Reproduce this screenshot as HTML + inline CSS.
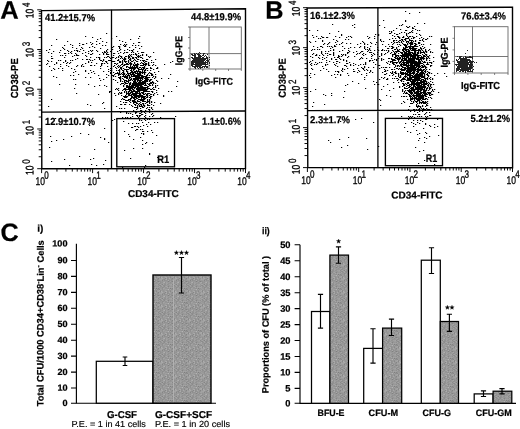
<!DOCTYPE html>
<html><head><meta charset="utf-8"><title>Figure</title>
<style>html,body{margin:0;padding:0;background:#fff;}body{width:520px;height:429px;overflow:hidden;font-family:"Liberation Sans",sans-serif;}svg{display:block;filter:blur(0.28px);}</style></head>
<body>
<svg width="520" height="429" viewBox="0 0 520 429" font-family="Liberation Sans, sans-serif">
<rect width="520" height="429" fill="#fff"/>
<g>
<path d="M41.5 10.6L245.5 8.7L245.5 168.5L41.8 168.8Z" fill="none" stroke="#000" stroke-width="1.4"/>
<path d="M111.5 9.8V168.7M41.6 112.2L245.5 111" stroke="#000" stroke-width="1.3" fill="none"/>
<path d="M41.60 168.7v4.4M56.95 168.7v2.9M65.92 168.7v2.9M72.29 168.7v2.9M77.23 168.7v2.9M81.27 168.7v2.9M84.68 168.7v2.9M87.64 168.7v2.9M90.24 168.7v2.9M92.58 168.7v4.4M107.92 168.7v2.9M116.90 168.7v2.9M123.27 168.7v2.9M128.20 168.7v2.9M132.24 168.7v2.9M135.65 168.7v2.9M138.61 168.7v2.9M141.22 168.7v2.9M143.55 168.7v4.4M158.90 168.7v2.9M167.87 168.7v2.9M174.24 168.7v2.9M179.18 168.7v2.9M183.22 168.7v2.9M186.63 168.7v2.9M189.59 168.7v2.9M192.19 168.7v2.9M194.53 168.7v4.4M209.87 168.7v2.9M218.85 168.7v2.9M225.22 168.7v2.9M230.15 168.7v2.9M234.19 168.7v2.9M237.60 168.7v2.9M240.56 168.7v2.9M243.17 168.7v2.9M245.50 168.7v4.4" stroke="#000" stroke-width="0.95" fill="none"/>
<path d="M41.6 168.70h-4.4M41.6 156.74h-2.9M41.6 149.75h-2.9M41.6 144.78h-2.9M41.6 140.93h-2.9M41.6 137.79h-2.9M41.6 135.13h-2.9M41.6 132.82h-2.9M41.6 130.79h-2.9M41.6 128.97h-4.4M41.6 117.02h-2.9M41.6 110.02h-2.9M41.6 105.06h-2.9M41.6 101.21h-2.9M41.6 98.06h-2.9M41.6 95.40h-2.9M41.6 93.10h-2.9M41.6 91.07h-2.9M41.6 89.25h-4.4M41.6 77.29h-2.9M41.6 70.30h-2.9M41.6 65.33h-2.9M41.6 61.48h-2.9M41.6 58.34h-2.9M41.6 55.68h-2.9M41.6 53.37h-2.9M41.6 51.34h-2.9M41.6 49.53h-4.4M41.6 37.57h-2.9M41.6 30.57h-2.9M41.6 25.61h-2.9M41.6 21.76h-2.9M41.6 18.61h-2.9M41.6 15.95h-2.9M41.6 13.65h-2.9M41.6 11.62h-2.9M41.6 9.80h-4.4" stroke="#000" stroke-width="0.95" fill="none"/>
<rect x="116.8" y="118.6" width="57.7" height="48.20000000000002" fill="none" stroke="#000" stroke-width="1.35"/>
<rect x="190" y="27" width="51.30000000000001" height="42" fill="#fff" stroke="#666" stroke-width="0.9"/>
<path d="M209 27V69M190 53.6H241.3" stroke="#666" stroke-width="0.9" fill="none"/>
<path d="M199 59.5h1.0M201 58.5h1.0M198 61.5h1.0M195 57.5h1.0M197 64.5h1.0M194 61.5h1.0M200 62.5h1.0M206 60.5h1.0M197 58.5h1.0M196 57.5h1.0M202 60.5h1.0M201 59.5h1.0M200 62.5h1.0M195 61.5h1.0M199 55.5h1.0M203 62.5h1.0M193 55.5h1.0M197 59.5h1.0M198 62.5h1.0M193 61.5h1.0M201 59.5h1.0M200 60.5h1.0M198 57.5h1.0M197 59.5h1.0M199 62.5h1.0M200 56.5h1.0M192 62.5h1.0M197 62.5h1.0M194 61.5h1.0M195 59.5h1.0M205 64.5h1.0M195 54.5h1.0M199 63.5h1.0M204 62.5h1.0M196 63.5h1.0M199 63.5h1.0M200 58.5h1.0M200 60.5h1.0M193 64.5h1.0M200 63.5h1.0M206 62.5h1.0M192 54.5h1.0M204 64.5h1.0M200 67.5h1.0M196 66.5h1.0M209 62.5h1.0M203 54.5h1.0M193 66.5h1.0M200 61.5h1.0M198 63.5h1.0M203 55.5h1.0M199 55.5h1.0M203 58.5h1.0M206 67.5h1.0M196 60.5h1.0M200 63.5h1.0M193 61.5h1.0M196 60.5h1.0M198 56.5h1.0M204 58.5h1.0M205 63.5h1.0M193 63.5h1.0M195 62.5h1.0M203 66.5h1.0M197 61.5h1.0M199 65.5h1.0M206 64.5h1.0M203 66.5h1.0M198 63.5h1.0M197 60.5h1.0M198 63.5h1.0M207 57.5h1.0M197 54.5h1.0M198 64.5h1.0M201 61.5h1.0M199 63.5h1.0M198 54.5h1.0M194 60.5h1.0M199 59.5h1.0M197 57.5h1.0M203 60.5h1.0M199 65.5h1.0M203 63.5h1.0M198 59.5h1.0M205 61.5h1.0M199 65.5h1.0M193 61.5h1.0M201 64.5h1.0M191 64.5h1.0M198 66.5h1.0M195 63.5h1.0M200 63.5h1.0M195 59.5h1.0M196 61.5h1.0M200 65.5h1.0M198 61.5h1.0M198 61.5h1.0M203 62.5h1.0M202 67.5h1.0M194 61.5h1.0M199 57.5h1.0M194 60.5h1.0M201 60.5h1.0M195 65.5h1.0M204 66.5h1.0M200 55.5h1.0M200 57.5h1.0M196 63.5h1.0M199 58.5h1.0M194 66.5h1.0M201 64.5h1.0M204 59.5h1.0M203 60.5h1.0M195 66.5h1.0M203 57.5h1.0M200 57.5h1.0M192 62.5h1.0M206 58.5h1.0M207 64.5h1.0M199 62.5h1.0M198 57.5h1.0M199 62.5h1.0M194 60.5h1.0M205 65.5h1.0M197 58.5h1.0M199 59.5h1.0M195 67.5h1.0M206 62.5h1.0M199 62.5h1.0M199 61.5h1.0M196 57.5h1.0M198 62.5h1.0M196 63.5h1.0M199 58.5h1.0M197 54.5h1.0M198 55.5h1.0M192 64.5h1.0M195 58.5h1.0M208 61.5h1.0M196 62.5h1.0M194 64.5h1.0M201 60.5h1.0M206 64.5h1.0M192 57.5h1.0M198 60.5h1.0M196 57.5h1.0M203 61.5h1.0M199 58.5h1.0M200 60.5h1.0M196 60.5h1.0M202 64.5h1.0M197 54.5h1.0M199 57.5h1.0M194 60.5h1.0M206 66.5h1.0M197 61.5h1.0M201 65.5h1.0M197 60.5h1.0M197 60.5h1.0M202 67.5h1.0M198 64.5h1.0M199 64.5h1.0M199 59.5h1.0M201 64.5h1.0M196 64.5h1.0M204 64.5h1.0M204 60.5h1.0M199 63.5h1.0M202 64.5h1.0M203 60.5h1.0M203 54.5h1.0M204 63.5h1.0M197 58.5h1.0M207 60.5h1.0M193 59.5h1.0M204 60.5h1.0M204 67.5h1.0M209 62.5h1.0M207 66.5h1.0M191 61.5h1.0M203 53.5h1.0M194 57.5h1.0M199 56.5h1.0M203 59.5h1.0M191 62.5h1.0M201 63.5h1.0M200 55.5h1.0M198 63.5h1.0M199 61.5h1.0M195 60.5h1.0M192 61.5h1.0M198 59.5h1.0M194 59.5h1.0M191 54.5h1.0M202 61.5h1.0M194 67.5h1.0M196 64.5h1.0M194 58.5h1.0M195 68.5h1.0M200 61.5h1.0M195 61.5h1.0M201 60.5h1.0M201 62.5h1.0M209 59.5h1.0M192 61.5h1.0M204 56.5h1.0M199 60.5h1.0M192 61.5h1.0M197 60.5h1.0M203 64.5h1.0M199 64.5h1.0M200 56.5h1.0M198 60.5h1.0M205 65.5h1.0M199 63.5h1.0M197 59.5h1.0M200 53.5h1.0M193 58.5h1.0M195 59.5h1.0M205 64.5h1.0M200 64.5h1.0M200 68.5h1.0M199 54.5h1.0M199 65.5h1.0M203 60.5h1.0M202 58.5h1.0M200 64.5h1.0M194 57.5h1.0M196 60.5h1.0M205 55.5h1.0M193 58.5h1.0M199 63.5h1.0M199 63.5h1.0M208 60.5h1.0M207 54.5h1.0M197 58.5h1.0M203 57.5h1.0M201 56.5h1.0M201 58.5h1.0M199 52.5h1.0M200 64.5h1.0M194 61.5h1.0M198 63.5h1.0M198 62.5h1.0M205 64.5h1.0M201 61.5h1.0M199 67.5h1.0M207 63.5h1.0M197 63.5h1.0M197 63.5h1.0M207 61.5h1.0M204 60.5h1.0M204 62.5h1.0M203 55.5h1.0M200 62.5h1.0M198 56.5h1.0M198 54.5h1.0M200 60.5h1.0M207 61.5h1.0M202 58.5h1.0M199 62.5h1.0M196 58.5h1.0M196 64.5h1.0M207 58.5h1.0M202 61.5h1.0M200 66.5h1.0M194 57.5h1.0M199 59.5h1.0M204 58.5h1.0M197 65.5h1.0M198 56.5h1.0M198 59.5h1.0M200 61.5h1.0M191 57.5h1.0M198 57.5h1.0M195 59.5h1.0M195 55.5h1.0M202 59.5h1.0M207 62.5h1.0M198 60.5h1.0M196 53.5h1.0M200 59.5h1.0M199 65.5h1.0M194 64.5h1.0M202 61.5h1.0M209 57.5h1.0M198 64.5h1.0M198 59.5h1.0M194 56.5h1.0M201 58.5h1.0M194 62.5h1.0M206 67.5h1.0M195 59.5h1.0M205 66.5h1.0M207 59.5h1.0M201 61.5h1.0M209 65.5h1.0M198 59.5h1.0M196 61.5h1.0M193 63.5h1.0M200 67.5h1.0M207 59.5h1.0M204 53.5h1.0M195 60.5h1.0M195 61.5h1.0M197 62.5h1.0M201 67.5h1.0M198 63.5h1.0M200 65.5h1.0M201 56.5h1.0M198 65.5h1.0M200 65.5h1.0M199 62.5h1.0M202 62.5h1.0M202 57.5h1.0M200 61.5h1.0M191 63.5h1.0M201 65.5h1.0M192 63.5h1.0M204 60.5h1.0M203 62.5h1.0M199 61.5h1.0M197 61.5h1.0M196 65.5h1.0M202 57.5h1.0M200 64.5h1.0M195 56.5h1.0M193 62.5h1.0M199 57.5h1.0M198 66.5h1.0M194 60.5h1.0M205 65.5h1.0M205 62.5h1.0M205 62.5h1.0M202 55.5h1.0M199 66.5h1.0M197 61.5h1.0M198 68.5h1.0M193 62.5h1.0M192 58.5h1.0M203 63.5h1.0M198 65.5h1.0M200 61.5h1.0M204 63.5h1.0M200 65.5h1.0M201 64.5h1.0M197 62.5h1.0M204 62.5h1.0M200 66.5h1.0M193 59.5h1.0M195 58.5h1.0M203 60.5h1.0M202 67.5h1.0M206 67.5h1.0M202 58.5h1.0M206 56.5h1.0M197 67.5h1.0M198 61.5h1.0M194 55.5h1.0M198 65.5h1.0M207 67.5h1.0M196 59.5h1.0M200 63.5h1.0M191 65.5h1.0M197 58.5h1.0M204 63.5h1.0M193 61.5h1.0M205 59.5h1.0M201 59.5h1.0M194 62.5h1.0M197 61.5h1.0M197 59.5h1.0M199 59.5h1.0M197 66.5h1.0M195 62.5h1.0M198 65.5h1.0M194 67.5h1.0M193 64.5h1.0M204 58.5h1.0M192 65.5h1.0M199 60.5h1.0M204 53.5h1.0M197 57.5h1.0M207 64.5h1.0M195 65.5h1.0M201 65.5h1.0M198 61.5h1.0M196 63.5h1.0M202 64.5h1.0M199 61.5h1.0M202 66.5h1.0M194 64.5h1.0M199 57.5h1.0M200 66.5h1.0M204 60.5h1.0M195 57.5h1.0M199 63.5h1.0M203 57.5h1.0M194 54.5h1.0M199 64.5h1.0M205 66.5h1.0M192 61.5h1.0M194 66.5h1.0M196 61.5h1.0M194 61.5h1.0M201 64.5h1.0M195 66.5h1.0M196 60.5h1.0M202 60.5h1.0M196 61.5h1.0M201 62.5h1.0M194 57.5h1.0M193 66.5h1.0M209 63.5h1.0M198 58.5h1.0M201 63.5h1.0M199 63.5h1.0M200 59.5h1.0M209 63.5h1.0M192 66.5h1.0M194 58.5h1.0M193 60.5h1.0M203 63.5h1.0M203 62.5h1.0M194 62.5h1.0M192 60.5h1.0M198 53.5h1.0M206 60.5h1.0M202 63.5h1.0M194 58.5h1.0M205 58.5h1.0M194 60.5h1.0M198 63.5h1.0M192 55.5h1.0M194 53.5h1.0M206 57.5h1.0M197 57.5h1.0M197 64.5h1.0M199 55.5h1.0M199 63.5h1.0M199 60.5h1.0M194 61.5h1.0M199 64.5h1.0M206 62.5h1.0M209 62.5h1.0M199 57.5h1.0M195 64.5h1.0M199 60.5h1.0" stroke="#222" stroke-width="1.0" fill="none"/>
<path d="M190.0 69v2M190 69.0h-2M202.8 69v2M190 58.5h-2M215.7 69v2M190 48.0h-2M228.5 69v2M190 37.5h-2M241.3 69v2M190 27.0h-2" stroke="#555" stroke-width="0.7" fill="none"/>
<path d="M139 93.5h1.2M122 66.5h1.2M131 68.5h1.2M133 91.5h1.2M129 91.5h1.2M154 72.5h1.2M113 61.5h1.2M136 55.5h1.2M137 68.5h1.2M125 45.5h1.2M137 89.5h1.2M143 69.5h1.2M137 85.5h1.2M142 106.5h1.2M144 96.5h1.2M111 61.5h1.2M151 91.5h1.2M133 95.5h1.2M144 67.5h1.2M144 64.5h1.2M120 76.5h1.2M131 54.5h1.2M128 100.5h1.2M125 42.5h1.2M143 61.5h1.2M126 74.5h1.2M133 75.5h1.2M115 80.5h1.2M133 82.5h1.2M135 75.5h1.2M129 95.5h1.2M124 46.5h1.2M154 78.5h1.2M121 67.5h1.2M124 80.5h1.2M126 81.5h1.2M146 64.5h1.2M156 68.5h1.2M139 90.5h1.2M127 83.5h1.2M129 68.5h1.2M149 109.5h1.2M128 113.5h1.2M148 56.5h1.2M150 83.5h1.2M139 116.5h1.2M142 90.5h1.2M143 81.5h1.2M151 75.5h1.2M123 70.5h1.2M147 75.5h1.2M130 70.5h1.2M128 89.5h1.2M135 72.5h1.2M132 71.5h1.2M122 60.5h1.2M118 77.5h1.2M123 65.5h1.2M149 75.5h1.2M157 94.5h1.2M142 83.5h1.2M148 86.5h1.2M130 83.5h1.2M134 79.5h1.2M137 76.5h1.2M123 73.5h1.2M125 89.5h1.2M134 62.5h1.2M133 98.5h1.2M123 79.5h1.2M137 67.5h1.2M131 71.5h1.2M144 68.5h1.2M135 80.5h1.2M130 67.5h1.2M138 95.5h1.2M132 66.5h1.2M124 44.5h1.2M129 67.5h1.2M139 48.5h1.2M141 77.5h1.2M150 94.5h1.2M118 88.5h1.2M128 58.5h1.2M129 67.5h1.2M139 105.5h1.2M130 83.5h1.2M129 78.5h1.2M144 94.5h1.2M140 115.5h1.2M124 97.5h1.2M149 80.5h1.2M145 83.5h1.2M129 87.5h1.2M142 69.5h1.2M125 62.5h1.2M146 79.5h1.2M131 64.5h1.2M126 77.5h1.2M131 79.5h1.2M130 113.5h1.2M135 65.5h1.2M136 76.5h1.2M135 76.5h1.2M129 85.5h1.2M98 94.5h1.2M135 71.5h1.2M113 66.5h1.2M135 53.5h1.2M145 64.5h1.2M138 86.5h1.2M130 79.5h1.2M131 63.5h1.2M133 72.5h1.2M129 78.5h1.2M129 86.5h1.2M124 69.5h1.2M147 74.5h1.2M132 51.5h1.2M143 61.5h1.2M134 102.5h1.2M132 45.5h1.2M132 73.5h1.2M140 81.5h1.2M143 72.5h1.2M136 66.5h1.2M127 77.5h1.2M126 78.5h1.2M152 77.5h1.2M129 50.5h1.2M131 76.5h1.2M149 65.5h1.2M145 70.5h1.2M140 81.5h1.2M131 88.5h1.2M152 91.5h1.2M138 71.5h1.2M142 92.5h1.2M134 96.5h1.2M121 95.5h1.2M123 99.5h1.2M139 76.5h1.2M138 75.5h1.2M133 90.5h1.2M120 58.5h1.2M120 81.5h1.2M130 70.5h1.2M119 72.5h1.2M141 52.5h1.2M145 65.5h1.2M145 78.5h1.2M145 91.5h1.2M130 93.5h1.2M125 77.5h1.2M98 75.5h1.2M127 66.5h1.2M133 84.5h1.2M144 74.5h1.2M142 87.5h1.2M143 104.5h1.2M137 78.5h1.2M139 56.5h1.2M148 65.5h1.2M121 56.5h1.2M128 60.5h1.2M122 98.5h1.2M152 81.5h1.2M146 55.5h1.2M143 88.5h1.2M124 97.5h1.2M136 73.5h1.2M131 68.5h1.2M135 73.5h1.2M133 82.5h1.2M141 88.5h1.2M132 96.5h1.2M145 96.5h1.2M139 96.5h1.2M133 98.5h1.2M134 88.5h1.2M128 55.5h1.2M143 76.5h1.2M132 83.5h1.2M137 72.5h1.2M132 92.5h1.2M118 73.5h1.2M143 64.5h1.2M126 100.5h1.2M143 88.5h1.2M139 81.5h1.2M119 92.5h1.2M126 94.5h1.2M130 83.5h1.2M122 41.5h1.2M121 68.5h1.2M142 71.5h1.2M131 63.5h1.2M139 81.5h1.2M132 96.5h1.2M137 71.5h1.2M125 61.5h1.2M137 108.5h1.2M140 71.5h1.2M133 60.5h1.2M130 82.5h1.2M124 84.5h1.2M135 67.5h1.2M139 90.5h1.2M131 71.5h1.2M125 64.5h1.2M140 81.5h1.2M156 90.5h1.2M130 68.5h1.2M139 83.5h1.2M138 77.5h1.2M112 120.5h1.2M135 67.5h1.2M129 99.5h1.2M149 77.5h1.2M132 76.5h1.2M127 89.5h1.2M134 91.5h1.2M138 97.5h1.2M129 83.5h1.2M133 69.5h1.2M119 70.5h1.2M133 86.5h1.2M144 87.5h1.2M139 99.5h1.2M143 84.5h1.2M139 94.5h1.2M149 101.5h1.2M145 80.5h1.2M150 56.5h1.2M144 60.5h1.2M131 56.5h1.2M140 102.5h1.2M135 65.5h1.2M140 96.5h1.2M137 87.5h1.2M129 104.5h1.2M114 93.5h1.2M127 76.5h1.2M113 75.5h1.2M135 79.5h1.2M135 81.5h1.2M116 70.5h1.2M142 78.5h1.2M146 102.5h1.2M133 52.5h1.2M152 82.5h1.2M153 64.5h1.2M122 81.5h1.2M147 91.5h1.2M139 77.5h1.2M140 90.5h1.2M142 54.5h1.2M129 95.5h1.2M127 69.5h1.2M127 87.5h1.2M127 81.5h1.2M130 39.5h1.2M118 67.5h1.2M124 81.5h1.2M143 101.5h1.2M134 82.5h1.2M139 82.5h1.2M113 57.5h1.2M128 99.5h1.2M131 105.5h1.2M135 78.5h1.2M128 75.5h1.2M142 54.5h1.2M135 91.5h1.2M139 119.5h1.2M136 89.5h1.2M144 97.5h1.2M130 86.5h1.2M145 63.5h1.2M141 98.5h1.2M134 59.5h1.2M135 75.5h1.2M140 82.5h1.2M146 91.5h1.2M145 84.5h1.2M139 84.5h1.2M143 67.5h1.2M134 59.5h1.2M148 79.5h1.2M133 67.5h1.2M111 58.5h1.2M147 59.5h1.2M135 71.5h1.2M119 50.5h1.2M130 58.5h1.2M123 53.5h1.2M157 81.5h1.2M140 84.5h1.2M121 108.5h1.2M138 56.5h1.2M129 68.5h1.2M156 92.5h1.2M123 75.5h1.2M110 73.5h1.2M138 104.5h1.2M130 73.5h1.2M128 61.5h1.2M110 58.5h1.2M139 83.5h1.2M153 83.5h1.2M112 57.5h1.2M145 63.5h1.2M129 86.5h1.2M139 87.5h1.2M138 68.5h1.2M133 87.5h1.2M147 87.5h1.2M137 51.5h1.2M128 73.5h1.2M143 84.5h1.2M128 69.5h1.2M113 46.5h1.2M155 74.5h1.2M132 89.5h1.2M130 102.5h1.2M135 45.5h1.2M122 117.5h1.2M119 61.5h1.2M131 92.5h1.2M131 97.5h1.2M137 93.5h1.2M147 80.5h1.2M128 61.5h1.2M141 87.5h1.2M140 67.5h1.2M119 40.5h1.2M141 120.5h1.2M126 89.5h1.2M148 105.5h1.2M138 64.5h1.2M137 100.5h1.2M123 102.5h1.2M138 101.5h1.2M126 78.5h1.2M140 60.5h1.2M133 75.5h1.2M123 45.5h1.2M142 52.5h1.2M142 79.5h1.2M127 63.5h1.2M146 76.5h1.2M131 76.5h1.2M134 107.5h1.2M138 97.5h1.2M127 77.5h1.2M132 96.5h1.2M132 66.5h1.2M150 73.5h1.2M152 92.5h1.2M130 59.5h1.2M151 74.5h1.2M132 58.5h1.2M139 80.5h1.2M146 102.5h1.2M136 67.5h1.2M139 81.5h1.2M136 65.5h1.2M120 61.5h1.2M146 59.5h1.2M132 100.5h1.2M135 113.5h1.2M104 85.5h1.2M144 67.5h1.2M144 89.5h1.2M142 73.5h1.2M146 90.5h1.2M153 82.5h1.2M134 82.5h1.2M145 87.5h1.2M126 69.5h1.2M130 72.5h1.2M143 52.5h1.2M138 71.5h1.2M118 57.5h1.2M138 76.5h1.2M131 64.5h1.2M126 80.5h1.2M140 85.5h1.2M128 57.5h1.2M117 66.5h1.2M121 64.5h1.2M154 89.5h1.2M121 104.5h1.2M138 91.5h1.2M140 73.5h1.2M143 100.5h1.2M119 55.5h1.2M133 100.5h1.2M135 68.5h1.2M139 36.5h1.2M132 118.5h1.2M125 102.5h1.2M143 63.5h1.2M146 81.5h1.2M138 75.5h1.2M128 80.5h1.2M137 56.5h1.2M135 68.5h1.2M144 85.5h1.2M122 81.5h1.2M138 96.5h1.2M133 79.5h1.2M126 113.5h1.2M136 67.5h1.2M135 82.5h1.2M127 49.5h1.2M137 59.5h1.2M122 98.5h1.2M133 64.5h1.2M140 86.5h1.2M137 77.5h1.2M144 62.5h1.2M121 73.5h1.2M118 70.5h1.2M136 71.5h1.2M140 89.5h1.2M158 88.5h1.2M140 69.5h1.2M124 64.5h1.2M143 82.5h1.2M125 76.5h1.2M120 93.5h1.2M141 118.5h1.2M139 91.5h1.2M142 77.5h1.2M140 75.5h1.2M152 65.5h1.2M136 64.5h1.2M146 63.5h1.2M123 72.5h1.2M119 72.5h1.2M151 89.5h1.2M149 72.5h1.2M140 75.5h1.2M135 60.5h1.2M139 103.5h1.2M128 86.5h1.2M153 105.5h1.2M143 90.5h1.2M142 100.5h1.2M138 74.5h1.2M147 89.5h1.2M144 119.5h1.2M140 60.5h1.2M124 96.5h1.2M142 103.5h1.2M148 84.5h1.2M130 89.5h1.2M135 97.5h1.2M143 68.5h1.2M145 84.5h1.2M140 65.5h1.2M116 68.5h1.2M139 69.5h1.2M122 76.5h1.2M126 80.5h1.2M141 85.5h1.2M129 56.5h1.2M146 108.5h1.2M163 96.5h1.2M144 89.5h1.2M142 73.5h1.2M125 77.5h1.2M129 86.5h1.2M124 84.5h1.2M126 52.5h1.2M124 89.5h1.2M132 123.5h1.2M129 50.5h1.2M126 93.5h1.2M120 84.5h1.2M120 76.5h1.2M141 99.5h1.2M133 60.5h1.2M146 81.5h1.2M148 101.5h1.2M131 75.5h1.2M141 72.5h1.2M120 80.5h1.2M158 71.5h1.2M149 102.5h1.2M131 64.5h1.2M124 91.5h1.2M137 59.5h1.2M116 88.5h1.2M126 76.5h1.2M138 38.5h1.2M135 78.5h1.2M128 62.5h1.2M144 71.5h1.2M126 102.5h1.2M136 61.5h1.2M128 62.5h1.2M128 100.5h1.2M140 80.5h1.2M126 102.5h1.2M155 83.5h1.2M127 64.5h1.2M155 77.5h1.2M125 97.5h1.2M142 93.5h1.2M122 78.5h1.2M120 79.5h1.2M136 76.5h1.2M141 69.5h1.2M124 108.5h1.2M147 78.5h1.2M124 61.5h1.2M135 71.5h1.2M140 89.5h1.2M142 88.5h1.2M115 76.5h1.2M150 68.5h1.2M140 78.5h1.2M127 52.5h1.2M122 58.5h1.2M118 90.5h1.2M119 71.5h1.2M141 84.5h1.2M133 97.5h1.2M124 88.5h1.2M129 78.5h1.2M154 111.5h1.2M132 88.5h1.2M128 73.5h1.2M150 89.5h1.2M140 84.5h1.2M134 65.5h1.2M128 79.5h1.2M118 75.5h1.2M119 48.5h1.2M129 75.5h1.2M132 74.5h1.2M138 71.5h1.2M138 53.5h1.2M136 73.5h1.2M137 77.5h1.2M124 80.5h1.2M110 60.5h1.2M130 88.5h1.2M123 59.5h1.2M127 75.5h1.2M134 98.5h1.2M120 67.5h1.2M122 70.5h1.2M135 95.5h1.2M135 72.5h1.2M127 73.5h1.2M140 81.5h1.2M134 94.5h1.2M120 44.5h1.2M134 65.5h1.2M153 62.5h1.2M126 61.5h1.2M145 65.5h1.2M148 65.5h1.2M151 83.5h1.2M124 64.5h1.2M156 80.5h1.2M136 84.5h1.2M131 67.5h1.2M132 80.5h1.2M143 103.5h1.2M136 83.5h1.2M132 68.5h1.2M148 77.5h1.2M126 64.5h1.2M124 82.5h1.2M144 91.5h1.2M141 65.5h1.2M146 75.5h1.2M125 95.5h1.2M145 70.5h1.2M140 81.5h1.2M151 62.5h1.2M120 65.5h1.2M136 70.5h1.2M135 111.5h1.2M117 72.5h1.2M126 70.5h1.2M145 70.5h1.2M129 76.5h1.2M128 88.5h1.2M144 81.5h1.2M148 109.5h1.2M145 81.5h1.2M128 100.5h1.2M134 82.5h1.2M146 87.5h1.2M125 56.5h1.2M126 76.5h1.2M143 77.5h1.2M151 74.5h1.2M119 46.5h1.2M109 91.5h1.2M119 72.5h1.2M123 71.5h1.2M133 74.5h1.2M141 75.5h1.2M134 84.5h1.2M125 59.5h1.2M135 64.5h1.2M125 82.5h1.2M134 80.5h1.2M127 72.5h1.2M138 69.5h1.2M142 65.5h1.2M126 77.5h1.2M126 96.5h1.2M128 62.5h1.2M120 101.5h1.2M128 91.5h1.2M126 71.5h1.2M145 90.5h1.2M128 56.5h1.2M124 52.5h1.2M118 59.5h1.2M122 72.5h1.2M133 73.5h1.2M131 70.5h1.2M147 79.5h1.2M125 46.5h1.2M146 85.5h1.2M135 57.5h1.2M133 68.5h1.2M113 72.5h1.2M119 61.5h1.2M140 57.5h1.2M148 63.5h1.2M137 78.5h1.2M143 87.5h1.2M131 86.5h1.2M129 63.5h1.2M126 66.5h1.2M143 64.5h1.2M139 85.5h1.2M129 47.5h1.2M133 97.5h1.2M140 71.5h1.2M137 66.5h1.2M126 83.5h1.2M154 93.5h1.2M138 83.5h1.2M136 94.5h1.2M150 80.5h1.2M147 96.5h1.2M135 97.5h1.2M140 77.5h1.2M125 100.5h1.2M128 80.5h1.2M111 79.5h1.2M146 64.5h1.2M114 74.5h1.2M143 90.5h1.2M124 58.5h1.2M125 88.5h1.2M133 83.5h1.2M138 82.5h1.2M138 45.5h1.2M153 76.5h1.2M139 88.5h1.2M143 67.5h1.2M128 79.5h1.2M138 42.5h1.2M137 88.5h1.2M129 68.5h1.2M135 91.5h1.2M131 50.5h1.2M138 88.5h1.2M138 74.5h1.2M130 90.5h1.2M125 64.5h1.2M141 69.5h1.2M120 112.5h1.2M127 66.5h1.2M150 67.5h1.2M106 74.5h1.2M126 63.5h1.2M144 96.5h1.2M120 104.5h1.2M157 67.5h1.2M105 52.5h1.2M151 96.5h1.2M153 95.5h1.2M145 90.5h1.2M134 95.5h1.2M137 65.5h1.2M125 75.5h1.2M141 57.5h1.2M121 57.5h1.2M133 93.5h1.2M144 68.5h1.2M126 112.5h1.2M131 79.5h1.2M135 68.5h1.2M122 90.5h1.2M149 105.5h1.2M139 85.5h1.2M117 60.5h1.2M135 84.5h1.2M128 99.5h1.2M127 71.5h1.2M134 66.5h1.2M129 93.5h1.2M145 80.5h1.2M125 61.5h1.2M144 72.5h1.2M133 67.5h1.2M144 82.5h1.2M129 80.5h1.2M131 95.5h1.2M123 89.5h1.2M138 55.5h1.2M145 84.5h1.2M149 91.5h1.2M149 85.5h1.2M139 93.5h1.2M131 70.5h1.2M137 64.5h1.2M136 92.5h1.2M148 62.5h1.2M141 46.5h1.2M127 93.5h1.2M126 67.5h1.2M148 73.5h1.2M136 57.5h1.2M130 58.5h1.2M145 61.5h1.2M130 73.5h1.2M132 84.5h1.2M126 44.5h1.2M115 89.5h1.2M142 60.5h1.2M120 62.5h1.2M130 88.5h1.2M127 77.5h1.2M140 55.5h1.2M137 106.5h1.2M133 65.5h1.2M117 82.5h1.2M134 81.5h1.2M121 99.5h1.2M137 71.5h1.2M140 93.5h1.2M133 67.5h1.2M149 95.5h1.2M139 67.5h1.2M140 73.5h1.2M139 106.5h1.2M133 83.5h1.2M145 80.5h1.2M149 112.5h1.2M121 83.5h1.2M144 66.5h1.2M141 89.5h1.2M143 60.5h1.2M141 95.5h1.2M123 96.5h1.2M121 69.5h1.2M153 69.5h1.2M137 81.5h1.2M120 78.5h1.2M137 63.5h1.2M132 87.5h1.2M112 47.5h1.2M110 72.5h1.2M117 72.5h1.2M137 74.5h1.2M134 83.5h1.2M130 60.5h1.2M138 87.5h1.2M141 75.5h1.2M111 68.5h1.2M129 57.5h1.2M124 60.5h1.2M122 83.5h1.2M127 64.5h1.2M133 79.5h1.2M133 94.5h1.2M121 93.5h1.2M132 101.5h1.2M155 74.5h1.2M122 62.5h1.2M118 93.5h1.2M138 83.5h1.2M142 95.5h1.2M139 78.5h1.2M125 96.5h1.2M146 91.5h1.2M127 89.5h1.2M123 86.5h1.2M129 84.5h1.2M134 81.5h1.2M142 81.5h1.2M143 93.5h1.2M133 70.5h1.2M147 104.5h1.2M135 76.5h1.2M145 93.5h1.2M120 77.5h1.2M118 74.5h1.2M146 108.5h1.2M119 73.5h1.2M129 59.5h1.2M132 67.5h1.2M129 73.5h1.2M133 110.5h1.2M149 81.5h1.2M109 92.5h1.2M142 63.5h1.2M137 83.5h1.2M136 88.5h1.2M137 105.5h1.2M141 68.5h1.2M155 87.5h1.2M122 83.5h1.2M134 63.5h1.2M133 78.5h1.2M140 74.5h1.2M133 43.5h1.2M142 87.5h1.2M131 86.5h1.2M134 71.5h1.2M125 58.5h1.2M130 100.5h1.2M133 82.5h1.2M135 93.5h1.2M124 99.5h1.2M150 70.5h1.2M134 90.5h1.2M120 74.5h1.2M146 77.5h1.2M127 77.5h1.2M140 78.5h1.2M136 95.5h1.2M137 80.5h1.2M136 76.5h1.2M128 74.5h1.2M135 83.5h1.2M155 65.5h1.2M110 70.5h1.2M135 77.5h1.2M138 70.5h1.2M123 76.5h1.2M119 69.5h1.2M146 108.5h1.2M133 98.5h1.2M157 85.5h1.2M140 77.5h1.2M139 111.5h1.2M140 83.5h1.2M141 77.5h1.2M147 83.5h1.2M140 83.5h1.2M138 99.5h1.2M136 78.5h1.2M152 109.5h1.2M142 65.5h1.2M125 88.5h1.2M126 63.5h1.2M141 105.5h1.2M127 73.5h1.2M130 77.5h1.2M126 92.5h1.2M134 97.5h1.2M137 61.5h1.2M144 73.5h1.2M133 57.5h1.2M156 80.5h1.2M134 76.5h1.2M144 73.5h1.2M144 68.5h1.2M139 72.5h1.2M128 67.5h1.2M106 86.5h1.2M135 101.5h1.2M133 49.5h1.2M155 76.5h1.2M119 72.5h1.2M155 85.5h1.2M130 64.5h1.2M142 76.5h1.2M106 62.5h1.2M137 88.5h1.2M131 79.5h1.2M141 76.5h1.2M136 84.5h1.2M122 74.5h1.2M142 55.5h1.2M143 87.5h1.2M141 82.5h1.2M145 76.5h1.2M148 93.5h1.2M136 96.5h1.2M119 62.5h1.2M119 66.5h1.2M151 101.5h1.2M144 99.5h1.2M134 67.5h1.2M128 60.5h1.2M134 68.5h1.2M134 71.5h1.2M129 54.5h1.2M127 78.5h1.2M155 59.5h1.2M135 60.5h1.2M130 92.5h1.2M120 68.5h1.2M127 77.5h1.2M143 87.5h1.2M144 90.5h1.2M132 73.5h1.2M135 79.5h1.2M130 66.5h1.2M125 104.5h1.2M149 88.5h1.2M137 61.5h1.2M161 78.5h1.2M128 89.5h1.2M134 85.5h1.2M147 105.5h1.2M134 99.5h1.2M119 70.5h1.2M124 77.5h1.2M134 59.5h1.2M138 82.5h1.2M134 80.5h1.2M149 119.5h1.2M145 79.5h1.2M135 47.5h1.2M134 68.5h1.2M132 80.5h1.2M138 59.5h1.2M143 65.5h1.2M135 73.5h1.2M140 83.5h1.2M131 76.5h1.2M118 65.5h1.2M125 90.5h1.2M142 70.5h1.2M138 71.5h1.2M149 57.5h1.2M134 66.5h1.2M145 88.5h1.2M146 54.5h1.2M145 77.5h1.2M129 89.5h1.2M132 72.5h1.2M136 82.5h1.2M122 61.5h1.2M141 98.5h1.2M147 95.5h1.2M130 82.5h1.2M153 52.5h1.2M130 62.5h1.2M134 93.5h1.2M135 104.5h1.2M128 82.5h1.2M141 97.5h1.2M134 69.5h1.2M152 75.5h1.2M141 78.5h1.2M141 84.5h1.2M130 55.5h1.2M121 92.5h1.2M136 98.5h1.2M124 61.5h1.2M142 58.5h1.2M135 83.5h1.2M151 68.5h1.2M139 42.5h1.2M144 90.5h1.2M137 80.5h1.2M136 71.5h1.2M145 110.5h1.2M144 80.5h1.2M126 67.5h1.2M140 80.5h1.2M141 62.5h1.2M132 67.5h1.2M132 84.5h1.2M126 70.5h1.2M119 71.5h1.2M149 103.5h1.2M136 91.5h1.2M139 90.5h1.2M155 86.5h1.2M138 85.5h1.2M127 100.5h1.2M146 78.5h1.2M144 106.5h1.2M137 64.5h1.2M139 74.5h1.2M132 57.5h1.2M151 73.5h1.2M142 86.5h1.2M140 100.5h1.2M147 68.5h1.2M144 78.5h1.2M139 73.5h1.2M137 67.5h1.2M151 60.5h1.2M140 79.5h1.2M131 52.5h1.2M126 80.5h1.2M131 78.5h1.2M123 68.5h1.2M134 63.5h1.2M135 57.5h1.2M116 106.5h1.2M133 58.5h1.2M144 101.5h1.2M137 87.5h1.2M124 73.5h1.2M146 61.5h1.2M129 94.5h1.2M124 104.5h1.2M122 64.5h1.2M134 74.5h1.2M146 94.5h1.2M147 83.5h1.2M140 108.5h1.2M121 69.5h1.2M128 86.5h1.2M123 59.5h1.2M136 109.5h1.2M115 67.5h1.2M132 45.5h1.2M141 76.5h1.2M133 76.5h1.2M142 107.5h1.2M124 73.5h1.2M119 78.5h1.2M129 87.5h1.2M149 102.5h1.2M145 77.5h1.2M131 94.5h1.2M148 86.5h1.2M131 74.5h1.2M150 79.5h1.2M140 78.5h1.2M128 64.5h1.2M145 96.5h1.2M124 57.5h1.2M126 96.5h1.2M121 92.5h1.2M137 77.5h1.2M133 67.5h1.2M133 75.5h1.2M131 85.5h1.2M151 89.5h1.2M130 82.5h1.2M128 93.5h1.2M147 70.5h1.2M150 82.5h1.2M136 54.5h1.2M117 89.5h1.2M128 80.5h1.2M140 72.5h1.2M136 95.5h1.2M152 88.5h1.2M116 36.5h1.2M142 79.5h1.2M126 56.5h1.2M150 94.5h1.2M137 115.5h1.2M145 70.5h1.2M128 79.5h1.2M119 74.5h1.2M123 83.5h1.2M129 88.5h1.2M126 97.5h1.2M146 63.5h1.2M151 102.5h1.2M136 64.5h1.2M124 82.5h1.2M135 95.5h1.2M128 89.5h1.2M148 64.5h1.2M137 67.5h1.2M139 71.5h1.2M130 77.5h1.2M115 95.5h1.2M124 59.5h1.2M123 85.5h1.2M139 87.5h1.2M136 86.5h1.2M127 85.5h1.2M133 101.5h1.2M152 85.5h1.2M126 91.5h1.2M126 86.5h1.2M135 105.5h1.2M124 50.5h1.2M132 97.5h1.2M140 74.5h1.2M152 74.5h1.2M114 63.5h1.2M132 50.5h1.2M134 72.5h1.2M133 68.5h1.2M133 85.5h1.2M129 56.5h1.2M147 99.5h1.2M130 82.5h1.2M133 74.5h1.2M133 67.5h1.2M134 66.5h1.2M131 61.5h1.2M144 70.5h1.2M134 78.5h1.2M136 75.5h1.2M132 57.5h1.2M124 74.5h1.2M124 65.5h1.2M124 80.5h1.2M139 106.5h1.2M128 87.5h1.2M123 73.5h1.2M135 54.5h1.2M138 57.5h1.2M113 53.5h1.2M153 89.5h1.2M134 67.5h1.2M133 79.5h1.2M145 69.5h1.2M135 79.5h1.2M130 99.5h1.2M157 68.5h1.2M123 73.5h1.2M132 66.5h1.2M145 91.5h1.2M122 63.5h1.2M132 61.5h1.2M136 57.5h1.2M135 57.5h1.2M126 85.5h1.2M138 117.5h1.2M140 63.5h1.2M137 92.5h1.2M142 89.5h1.2M137 92.5h1.2M145 98.5h1.2M137 89.5h1.2M144 106.5h1.2M132 86.5h1.2M138 82.5h1.2M140 84.5h1.2M130 63.5h1.2M134 80.5h1.2M135 99.5h1.2M143 91.5h1.2M132 80.5h1.2M141 92.5h1.2M146 68.5h1.2M140 86.5h1.2M128 94.5h1.2M139 95.5h1.2M144 81.5h1.2M137 98.5h1.2M147 107.5h1.2M142 84.5h1.2M141 96.5h1.2M135 73.5h1.2M133 69.5h1.2M137 95.5h1.2M138 89.5h1.2M142 90.5h1.2M140 83.5h1.2M136 86.5h1.2M139 97.5h1.2M142 106.5h1.2M127 86.5h1.2M131 72.5h1.2M134 101.5h1.2M137 95.5h1.2M137 95.5h1.2M137 90.5h1.2M135 112.5h1.2M142 89.5h1.2M140 94.5h1.2M126 70.5h1.2M138 83.5h1.2M130 82.5h1.2M149 88.5h1.2M135 92.5h1.2M135 81.5h1.2M140 106.5h1.2M136 78.5h1.2M137 84.5h1.2M148 91.5h1.2M138 76.5h1.2M144 94.5h1.2M146 95.5h1.2M131 86.5h1.2M151 108.5h1.2M143 89.5h1.2M145 91.5h1.2M131 79.5h1.2M142 72.5h1.2M140 82.5h1.2M134 85.5h1.2M152 84.5h1.2M143 96.5h1.2M134 65.5h1.2M138 77.5h1.2M142 70.5h1.2M147 102.5h1.2M141 83.5h1.2M145 83.5h1.2M147 77.5h1.2M131 97.5h1.2M135 84.5h1.2M132 91.5h1.2M137 68.5h1.2M149 100.5h1.2M143 92.5h1.2M132 94.5h1.2M137 101.5h1.2M145 87.5h1.2M134 87.5h1.2M138 96.5h1.2M140 93.5h1.2M126 86.5h1.2M143 89.5h1.2M140 83.5h1.2M142 96.5h1.2M133 98.5h1.2M133 89.5h1.2M136 107.5h1.2M138 73.5h1.2M138 86.5h1.2M141 106.5h1.2M149 84.5h1.2M145 72.5h1.2M135 102.5h1.2M134 94.5h1.2M148 77.5h1.2M137 96.5h1.2M146 78.5h1.2M147 75.5h1.2M134 87.5h1.2M136 84.5h1.2M138 78.5h1.2M132 85.5h1.2M131 78.5h1.2M136 89.5h1.2M144 88.5h1.2M136 96.5h1.2M136 84.5h1.2M134 75.5h1.2M128 75.5h1.2M147 86.5h1.2M124 104.5h1.2M135 97.5h1.2M141 82.5h1.2M130 98.5h1.2M141 77.5h1.2M147 99.5h1.2M132 85.5h1.2M140 96.5h1.2M131 95.5h1.2M141 86.5h1.2M139 92.5h1.2M138 78.5h1.2M147 88.5h1.2M142 99.5h1.2M151 130.5h1.2M143 96.5h1.2M130 89.5h1.2M139 78.5h1.2M142 99.5h1.2M127 72.5h1.2M146 80.5h1.2M139 92.5h1.2M139 76.5h1.2M134 104.5h1.2M140 99.5h1.2M139 83.5h1.2M135 83.5h1.2M137 75.5h1.2M123 74.5h1.2M147 93.5h1.2M131 95.5h1.2M124 92.5h1.2M132 91.5h1.2M132 83.5h1.2M142 92.5h1.2M131 74.5h1.2M140 89.5h1.2M133 103.5h1.2M154 102.5h1.2M141 84.5h1.2M150 85.5h1.2M133 102.5h1.2M144 106.5h1.2M130 74.5h1.2M141 84.5h1.2M143 91.5h1.2M129 101.5h1.2M130 80.5h1.2M131 95.5h1.2M128 86.5h1.2M136 112.5h1.2M132 93.5h1.2M129 87.5h1.2M138 85.5h1.2M143 99.5h1.2M130 95.5h1.2M133 78.5h1.2M138 91.5h1.2M135 75.5h1.2M133 81.5h1.2M142 76.5h1.2M142 75.5h1.2M142 82.5h1.2M136 79.5h1.2M151 94.5h1.2M150 97.5h1.2M135 86.5h1.2M136 77.5h1.2M147 97.5h1.2M131 68.5h1.2M139 69.5h1.2M139 96.5h1.2M134 95.5h1.2M137 98.5h1.2M128 86.5h1.2M133 76.5h1.2M125 83.5h1.2M153 94.5h1.2M147 81.5h1.2M145 82.5h1.2M139 75.5h1.2M143 77.5h1.2M147 97.5h1.2M145 93.5h1.2M143 77.5h1.2M131 78.5h1.2M140 83.5h1.2M135 94.5h1.2M129 77.5h1.2M130 87.5h1.2M139 67.5h1.2M144 76.5h1.2M130 93.5h1.2M150 98.5h1.2M146 77.5h1.2M135 81.5h1.2M136 97.5h1.2M137 85.5h1.2M144 83.5h1.2M136 94.5h1.2M131 91.5h1.2M141 100.5h1.2M125 97.5h1.2M138 83.5h1.2M145 87.5h1.2M140 88.5h1.2M142 75.5h1.2M140 79.5h1.2M144 98.5h1.2M137 73.5h1.2M134 99.5h1.2M137 91.5h1.2M137 87.5h1.2M147 94.5h1.2M149 93.5h1.2M142 101.5h1.2M133 85.5h1.2M133 86.5h1.2M136 86.5h1.2M149 107.5h1.2M141 98.5h1.2M137 79.5h1.2M133 85.5h1.2M143 81.5h1.2M140 89.5h1.2M138 91.5h1.2M141 112.5h1.2M147 70.5h1.2M138 99.5h1.2M149 93.5h1.2M145 82.5h1.2M138 87.5h1.2M143 84.5h1.2M137 89.5h1.2M134 99.5h1.2M135 73.5h1.2M133 102.5h1.2M141 85.5h1.2M140 104.5h1.2M142 93.5h1.2M145 101.5h1.2M118 94.5h1.2M141 100.5h1.2M126 89.5h1.2M138 80.5h1.2M133 95.5h1.2M139 96.5h1.2M149 110.5h1.2M125 69.5h1.2M139 87.5h1.2M139 99.5h1.2M124 76.5h1.2M142 86.5h1.2M140 110.5h1.2M136 103.5h1.2M132 80.5h1.2M160 103.5h1.2M137 101.5h1.2M127 96.5h1.2M132 92.5h1.2M136 91.5h1.2M135 80.5h1.2M137 84.5h1.2M132 96.5h1.2M142 90.5h1.2M137 107.5h1.2M129 85.5h1.2M130 65.5h1.2M135 85.5h1.2M144 91.5h1.2M142 93.5h1.2M136 89.5h1.2M137 80.5h1.2M141 104.5h1.2M151 82.5h1.2M135 96.5h1.2M141 86.5h1.2M141 77.5h1.2M133 103.5h1.2M137 64.5h1.2M138 80.5h1.2M135 93.5h1.2M141 85.5h1.2M145 96.5h1.2M145 88.5h1.2M136 84.5h1.2M141 110.5h1.2M153 87.5h1.2M131 87.5h1.2M138 78.5h1.2M143 81.5h1.2M140 95.5h1.2M143 94.5h1.2M139 89.5h1.2M142 82.5h1.2M147 96.5h1.2M135 72.5h1.2M139 85.5h1.2M137 86.5h1.2M135 80.5h1.2M138 90.5h1.2M130 82.5h1.2M142 81.5h1.2M151 107.5h1.2M150 96.5h1.2M147 101.5h1.2M132 89.5h1.2M149 99.5h1.2M134 97.5h1.2M139 101.5h1.2M152 113.5h1.2M131 87.5h1.2M144 91.5h1.2M140 88.5h1.2M133 54.5h1.2M131 75.5h1.2M141 89.5h1.2M136 95.5h1.2M144 83.5h1.2M147 100.5h1.2M130 102.5h1.2M134 85.5h1.2M137 103.5h1.2M132 106.5h1.2M131 94.5h1.2M138 79.5h1.2M138 104.5h1.2M127 87.5h1.2M134 85.5h1.2M141 90.5h1.2M130 84.5h1.2M133 100.5h1.2M149 97.5h1.2M148 101.5h1.2M128 95.5h1.2M128 81.5h1.2M140 87.5h1.2M131 98.5h1.2M136 85.5h1.2M138 118.5h1.2M141 87.5h1.2M121 83.5h1.2M125 100.5h1.2M131 96.5h1.2M145 89.5h1.2M137 87.5h1.2M127 93.5h1.2M142 97.5h1.2M143 97.5h1.2M136 86.5h1.2M136 93.5h1.2M142 97.5h1.2M147 97.5h1.2M136 58.5h1.2M141 80.5h1.2M137 81.5h1.2M135 87.5h1.2M132 91.5h1.2M141 98.5h1.2M137 95.5h1.2M136 88.5h1.2M144 89.5h1.2M143 107.5h1.2M143 83.5h1.2M128 92.5h1.2M143 105.5h1.2M135 92.5h1.2M131 69.5h1.2M133 93.5h1.2M145 85.5h1.2M143 88.5h1.2M134 100.5h1.2M131 94.5h1.2M138 86.5h1.2M136 98.5h1.2M149 93.5h1.2M129 90.5h1.2M126 92.5h1.2M137 92.5h1.2M138 86.5h1.2M138 84.5h1.2M143 89.5h1.2M151 79.5h1.2M135 76.5h1.2M136 102.5h1.2M126 87.5h1.2M140 89.5h1.2M143 88.5h1.2M136 89.5h1.2M146 89.5h1.2M138 90.5h1.2M147 81.5h1.2M141 98.5h1.2M130 82.5h1.2M135 99.5h1.2M126 70.5h1.2M126 78.5h1.2M141 99.5h1.2M144 88.5h1.2M150 82.5h1.2M138 93.5h1.2M135 79.5h1.2M131 90.5h1.2M142 67.5h1.2M140 84.5h1.2M133 83.5h1.2M143 94.5h1.2M143 98.5h1.2M125 80.5h1.2M144 105.5h1.2M138 83.5h1.2M133 68.5h1.2M133 65.5h1.2M151 104.5h1.2M148 88.5h1.2M149 83.5h1.2M130 82.5h1.2M133 78.5h1.2M145 103.5h1.2M130 88.5h1.2M135 107.5h1.2M126 87.5h1.2M148 65.5h1.2M146 97.5h1.2M141 85.5h1.2M139 87.5h1.2M137 105.5h1.2M135 86.5h1.2M143 101.5h1.2M133 89.5h1.2M145 81.5h1.2M135 94.5h1.2M132 83.5h1.2M148 101.5h1.2M138 99.5h1.2M142 90.5h1.2M136 95.5h1.2M46 64.5h1.2M99 54.5h1.2M92 50.5h1.2M70 75.5h1.2M91 72.5h1.2M109 57.5h1.2M108 71.5h1.2M85 71.5h1.2M49 49.5h1.2M75 84.5h1.2M117 51.5h1.2M116 57.5h1.2M46 50.5h1.2M72 60.5h1.2M76 48.5h1.2M75 59.5h1.2M54 69.5h1.2M114 61.5h1.2M104 57.5h1.2M88 73.5h1.2M79 51.5h1.2M100 68.5h1.2M96 57.5h1.2M120 61.5h1.2M118 60.5h1.2M88 61.5h1.2M103 59.5h1.2M70 52.5h1.2M90 54.5h1.2M115 63.5h1.2M110 58.5h1.2M120 49.5h1.2M118 53.5h1.2M68 53.5h1.2M87 59.5h1.2M106 61.5h1.2M90 60.5h1.2M106 54.5h1.2M65 60.5h1.2M81 47.5h1.2M106 33.5h1.2M89 59.5h1.2M82 44.5h1.2M106 51.5h1.2M63 48.5h1.2M90 65.5h1.2M82 48.5h1.2M67 62.5h1.2M77 55.5h1.2M100 48.5h1.2M64 45.5h1.2M117 63.5h1.2M47 63.5h1.2M81 66.5h1.2M53 76.5h1.2M56 62.5h1.2M120 62.5h1.2M51 58.5h1.2M60 60.5h1.2M72 56.5h1.2M71 51.5h1.2M106 77.5h1.2M106 42.5h1.2M114 61.5h1.2M101 63.5h1.2M70 60.5h1.2M106 50.5h1.2M106 57.5h1.2M78 55.5h1.2M64 49.5h1.2M99 59.5h1.2M65 55.5h1.2M107 54.5h1.2M77 65.5h1.2M74 50.5h1.2M56 63.5h1.2M103 54.5h1.2M102 63.5h1.2M100 60.5h1.2M102 61.5h1.2M77 50.5h1.2M85 52.5h1.2M53 51.5h1.2M65 61.5h1.2M68 66.5h1.2M74 69.5h1.2M108 54.5h1.2M58 60.5h1.2M83 44.5h1.2M56 39.5h1.2M91 51.5h1.2M106 53.5h1.2M102 45.5h1.2M99 43.5h1.2M54 64.5h1.2M102 52.5h1.2M70 44.5h1.2M100 80.5h1.2M108 60.5h1.2M107 56.5h1.2M94 65.5h1.2M104 52.5h1.2M115 73.5h1.2M72 45.5h1.2M89 47.5h1.2M115 58.5h1.2M104 52.5h1.2M75 71.5h1.2M70 44.5h1.2M107 52.5h1.2M112 61.5h1.2M60 64.5h1.2M58 68.5h1.2M70 62.5h1.2M113 79.5h1.2M99 54.5h1.2M101 60.5h1.2M83 66.5h1.2M118 56.5h1.2M108 56.5h1.2M74 55.5h1.2M114 53.5h1.2M112 49.5h1.2M76 54.5h1.2M105 45.5h1.2M91 62.5h1.2M91 44.5h1.2M119 77.5h1.2M78 74.5h1.2M108 69.5h1.2M99 57.5h1.2M82 53.5h1.2M62 70.5h1.2M109 60.5h1.2M116 64.5h1.2M120 52.5h1.2M62 68.5h1.2M88 51.5h1.2M47 60.5h1.2M79 43.5h1.2M71 53.5h1.2M69 63.5h1.2M76 55.5h1.2M60 55.5h1.2M100 66.5h1.2M99 58.5h1.2M111 70.5h1.2M92 37.5h1.2M101 64.5h1.2M85 63.5h1.2M79 45.5h1.2M94 47.5h1.2M60 66.5h1.2M107 49.5h1.2M88 53.5h1.2M82 64.5h1.2M86 56.5h1.2M96 63.5h1.2M68 51.5h1.2M51 61.5h1.2M71 68.5h1.2M105 61.5h1.2M97 39.5h1.2M54 64.5h1.2M94 59.5h1.2M83 50.5h1.2M93 71.5h1.2M92 43.5h1.2M108 75.5h1.2M92 53.5h1.2M94 73.5h1.2M77 58.5h1.2M72 47.5h1.2M86 59.5h1.2M48 61.5h1.2M66 63.5h1.2M62 68.5h1.2M76 50.5h1.2M107 63.5h1.2M101 65.5h1.2M51 56.5h1.2M60 50.5h1.2M96 50.5h1.2M114 65.5h1.2M49 66.5h1.2M110 51.5h1.2M119 47.5h1.2M51 70.5h1.2M51 45.5h1.2M103 60.5h1.2M97 51.5h1.2M86 43.5h1.2M92 60.5h1.2M98 57.5h1.2M103 71.5h1.2M103 79.5h1.2M64 57.5h1.2M53 68.5h1.2M100 68.5h1.2M91 54.5h1.2M104 51.5h1.2M116 73.5h1.2M85 55.5h1.2M77 58.5h1.2M107 56.5h1.2M90 57.5h1.2M65 53.5h1.2M81 65.5h1.2M85 70.5h1.2M113 55.5h1.2M118 46.5h1.2M82 59.5h1.2M105 45.5h1.2M51 53.5h1.2M90 70.5h1.2M75 79.5h1.2M63 62.5h1.2M80 49.5h1.2M91 65.5h1.2M111 38.5h1.2M59 52.5h1.2M73 72.5h1.2M66 65.5h1.2M92 46.5h1.2M96 44.5h1.2M107 66.5h1.2M52 58.5h1.2M103 53.5h1.2M88 62.5h1.2M64 53.5h1.2M96 41.5h1.2M76 66.5h1.2M75 53.5h1.2M67 50.5h1.2M62 47.5h1.2M87 104.5h1.2M90 105.5h1.2M67 41.5h1.2M76 93.5h1.2M90 77.5h1.2M48 52.5h1.2M103 102.5h1.2M73 75.5h1.2M100 38.5h1.2M104 63.5h1.2M94 86.5h1.2M51 99.5h1.2M90 50.5h1.2M73 79.5h1.2M102 41.5h1.2M102 103.5h1.2M85 36.5h1.2M104 108.5h1.2M56 77.5h1.2M110 91.5h1.2M123 85.5h1.2M117 73.5h1.2M110 68.5h1.2M77 51.5h1.2M120 56.5h1.2M90 42.5h1.2M62 55.5h1.2M88 84.5h1.2M113 76.5h1.2M99 78.5h1.2M112 75.5h1.2M48 106.5h1.2M123 99.5h1.2M119 55.5h1.2M85 77.5h1.2M119 108.5h1.2M60 55.5h1.2M74 88.5h1.2M59 84.5h1.2M99 85.5h1.2M168 78.5h1.2M172 61.5h1.2M164 64.5h1.2M177 81.5h1.2M168 91.5h1.2M163 95.5h1.2M170 62.5h1.2M171 91.5h1.2M176 86.5h1.2M170 74.5h1.2M64 159.5h1.2M89 125.5h1.2M105 160.5h1.2M104 139.5h1.2M80 133.5h1.2M103 164.5h1.2M71 136.5h1.2M104 128.5h1.2M88 134.5h1.2M51 161.5h1.2M96 165.5h1.2M56 140.5h1.2M108 142.5h1.2M49 147.5h1.2M93 158.5h1.2M55 118.5h1.2M79 156.5h1.2M69 165.5h1.2M100 137.5h1.2M63 139.5h1.2M91 164.5h1.2M104 138.5h1.2M50 136.5h1.2M90 159.5h1.2M51 141.5h1.2M94 149.5h1.2M114 119.5h1.2M139 120.5h1.2M146 142.5h1.2M144 167.5h1.2M152 116.5h1.2M142 140.5h1.2M123 121.5h1.2M131 127.5h1.2M142 148.5h1.2M147 119.5h1.2M135 130.5h1.2M145 115.5h1.2M124 150.5h1.2M124 131.5h1.2M139 113.5h1.2M143 134.5h1.2M137 126.5h1.2M120 112.5h1.2M141 114.5h1.2M129 136.5h1.2M147 126.5h1.2M140 137.5h1.2M143 133.5h1.2M147 131.5h1.2M136 129.5h1.2M148 122.5h1.2M152 132.5h1.2M144 112.5h1.2M153 115.5h1.2M135 126.5h1.2M149 154.5h1.2M143 131.5h1.2M132 116.5h1.2M140 129.5h1.2M136 123.5h1.2M142 144.5h1.2M150 124.5h1.2M138 127.5h1.2M142 140.5h1.2M128 134.5h1.2M142 114.5h1.2M151 114.5h1.2M145 165.5h1.2M136 115.5h1.2M132 114.5h1.2M140 126.5h1.2M129 118.5h1.2M130 158.5h1.2M149 116.5h1.2M133 148.5h1.2M157 157.5h1.2M128 123.5h1.2M145 120.5h1.2M130 117.5h1.2M142 131.5h1.2M132 127.5h1.2M141 114.5h1.2M140 113.5h1.2M137 129.5h1.2M145 143.5h1.2M154 122.5h1.2M136 112.5h1.2M149 153.5h1.2M142 122.5h1.2M141 133.5h1.2M160 117.5h1.2M122 167.5h1.2M135 112.5h1.2M125 117.5h1.2M138 123.5h1.2M139 115.5h1.2M175 116.5h1.2M144 112.5h1.2M157 122.5h1.2M152 143.5h1.2M137 116.5h1.2M145 117.5h1.2M156 135.5h1.2M142 129.5h1.2M143 125.5h1.2M145 113.5h1.2M127 117.5h1.2M134 126.5h1.2M144 116.5h1.2M146 124.5h1.2M133 139.5h1.2" stroke="#000" stroke-width="1.2" fill="none"/>
</g>
<text x="0" y="0" font-size="25.6" transform="translate(0.2 18.7) rotate(0.06)" font-weight="bold" stroke="#000" stroke-width="0.22" fill="#000" >A</text>
<text x="0" y="0" font-size="10.3" transform="translate(45 21.1) rotate(0.06)" font-weight="bold" textLength="50" lengthAdjust="spacingAndGlyphs" stroke="#000" stroke-width="0.22" fill="#000" >41.2±15.7%</text>
<text x="0" y="0" font-size="10.3" transform="translate(191 20.3) rotate(0.06)" font-weight="bold" textLength="50" lengthAdjust="spacingAndGlyphs" stroke="#000" stroke-width="0.22" fill="#000" >44.8±19.9%</text>
<text x="0" y="0" font-size="10.3" transform="translate(45 124.9) rotate(0.06)" font-weight="bold" textLength="50" lengthAdjust="spacingAndGlyphs" stroke="#000" stroke-width="0.22" fill="#000" >12.9±10.7%</text>
<text x="0" y="0" font-size="10.3" transform="translate(202 124.7) rotate(0.06)" font-weight="bold" textLength="39" lengthAdjust="spacingAndGlyphs" stroke="#000" stroke-width="0.22" fill="#000" >1.1±0.6%</text>
<text x="0" y="0" font-size="10.8" transform="translate(157.3 163.1) rotate(0.06)" font-weight="bold" textLength="12" lengthAdjust="spacingAndGlyphs" stroke="#000" stroke-width="0.22" fill="#000" >R1</text>
<text x="0" y="0" font-size="10" transform="translate(128 197) rotate(0.06)" font-weight="bold" textLength="50.8" lengthAdjust="spacingAndGlyphs" stroke="#000" stroke-width="0.22" fill="#000" >CD34-FITC</text>
<text x="0" y="0" font-size="10.2" transform="translate(18.0 98.3) rotate(-89.94)" font-weight="bold" textLength="40" lengthAdjust="spacingAndGlyphs" stroke="#000" stroke-width="0.22" fill="#000" >CD38-PE</text>
<text x="0" y="0" font-size="10" transform="translate(182.2 65.2) rotate(-89.94)" font-weight="bold" textLength="29.3" lengthAdjust="spacingAndGlyphs" stroke="#000" stroke-width="0.22" fill="#000" >IgG-PE</text>
<text x="0" y="0" font-size="9.8" transform="translate(195.2 84.6) rotate(0.06)" font-weight="bold" textLength="37.8" lengthAdjust="spacingAndGlyphs" stroke="#000" stroke-width="0.22" fill="#000" >IgG-FITC</text>
<g transform="translate(33.5 18.2) rotate(-89.94) scale(0.76 1)" font-size="11.2" fill="#000" stroke="#000" stroke-width="0.3"><text x="0" y="0">10</text><text x="14.65" y="-3.70" font-size="10.64">4</text></g>
<g transform="translate(33.5 57.4) rotate(-89.94) scale(0.76 1)" font-size="11.2" fill="#000" stroke="#000" stroke-width="0.3"><text x="0" y="0">10</text><text x="14.65" y="-3.70" font-size="10.64">3</text></g>
<g transform="translate(33.5 96.5) rotate(-89.94) scale(0.76 1)" font-size="11.2" fill="#000" stroke="#000" stroke-width="0.3"><text x="0" y="0">10</text><text x="14.65" y="-3.70" font-size="10.64">2</text></g>
<g transform="translate(33.5 135.5) rotate(-89.94) scale(0.76 1)" font-size="11.2" fill="#000" stroke="#000" stroke-width="0.3"><text x="0" y="0">10</text><text x="14.65" y="-3.70" font-size="10.64">1</text></g>
<g transform="translate(33.5 174.9) rotate(-89.94) scale(0.76 1)" font-size="11.2" fill="#000" stroke="#000" stroke-width="0.3"><text x="0" y="0">10</text><text x="14.65" y="-3.70" font-size="10.64">0</text></g>
<g transform="translate(35.5 185) rotate(0.06) scale(0.76 1)" font-size="11.2" fill="#000" stroke="#000" stroke-width="0.3"><text x="0" y="0">10</text><text x="11.55" y="-6.38" font-size="10.64">0</text></g>
<g transform="translate(87.5 185) rotate(0.06) scale(0.76 1)" font-size="11.2" fill="#000" stroke="#000" stroke-width="0.3"><text x="0" y="0">10</text><text x="11.55" y="-6.38" font-size="10.64">1</text></g>
<g transform="translate(137.3 185) rotate(0.06) scale(0.76 1)" font-size="11.2" fill="#000" stroke="#000" stroke-width="0.3"><text x="0" y="0">10</text><text x="11.55" y="-6.38" font-size="10.64">2</text></g>
<g transform="translate(187.3 185) rotate(0.06) scale(0.76 1)" font-size="11.2" fill="#000" stroke="#000" stroke-width="0.3"><text x="0" y="0">10</text><text x="11.55" y="-6.38" font-size="10.64">3</text></g>
<g transform="translate(237.3 185) rotate(0.06) scale(0.76 1)" font-size="11.2" fill="#000" stroke="#000" stroke-width="0.3"><text x="0" y="0">10</text><text x="11.55" y="-6.38" font-size="10.64">4</text></g>
<g>
<path d="M307.1 8.0L512.5 7.3L512.6 167.8L307.8 167.5Z" fill="none" stroke="#000" stroke-width="1.4"/>
<path d="M377.9 7.7V167.6M307.4 110.6L512.5 110" stroke="#000" stroke-width="1.3" fill="none"/>
<path d="M307.40 167.6v4.4M322.84 167.6v2.9M331.86 167.6v2.9M338.27 167.6v2.9M343.24 167.6v2.9M347.30 167.6v2.9M350.73 167.6v2.9M353.71 167.6v2.9M356.33 167.6v2.9M358.67 167.6v4.4M374.11 167.6v2.9M383.14 167.6v2.9M389.55 167.6v2.9M394.51 167.6v2.9M398.57 167.6v2.9M402.01 167.6v2.9M404.98 167.6v2.9M407.60 167.6v2.9M409.95 167.6v4.4M425.39 167.6v2.9M434.41 167.6v2.9M440.82 167.6v2.9M445.79 167.6v2.9M449.85 167.6v2.9M453.28 167.6v2.9M456.26 167.6v2.9M458.88 167.6v2.9M461.23 167.6v4.4M476.66 167.6v2.9M485.69 167.6v2.9M492.10 167.6v2.9M497.06 167.6v2.9M501.12 167.6v2.9M504.56 167.6v2.9M507.53 167.6v2.9M510.15 167.6v2.9M512.50 167.6v4.4" stroke="#000" stroke-width="0.95" fill="none"/>
<path d="M307.4 167.60h-4.4M307.4 155.57h-2.9M307.4 148.53h-2.9M307.4 143.53h-2.9M307.4 139.66h-2.9M307.4 136.49h-2.9M307.4 133.82h-2.9M307.4 131.50h-2.9M307.4 129.45h-2.9M307.4 127.62h-4.4M307.4 115.59h-2.9M307.4 108.55h-2.9M307.4 103.56h-2.9M307.4 99.68h-2.9M307.4 96.52h-2.9M307.4 93.84h-2.9M307.4 91.52h-2.9M307.4 89.48h-2.9M307.4 87.65h-4.4M307.4 75.62h-2.9M307.4 68.58h-2.9M307.4 63.58h-2.9M307.4 59.71h-2.9M307.4 56.54h-2.9M307.4 53.87h-2.9M307.4 51.55h-2.9M307.4 49.50h-2.9M307.4 47.67h-4.4M307.4 35.64h-2.9M307.4 28.60h-2.9M307.4 23.61h-2.9M307.4 19.73h-2.9M307.4 16.57h-2.9M307.4 13.89h-2.9M307.4 11.57h-2.9M307.4 9.53h-2.9M307.4 7.70h-4.4" stroke="#000" stroke-width="0.95" fill="none"/>
<rect x="385.4" y="118.4" width="57.10000000000002" height="47.29999999999998" fill="none" stroke="#000" stroke-width="1.35"/>
<rect x="454.5" y="26.7" width="53.5" height="46.3" fill="#fff" stroke="#666" stroke-width="0.9"/>
<path d="M472.5 26.7V73M454.5 56.5H508" stroke="#666" stroke-width="0.9" fill="none"/>
<path d="M463 64.5h1.0M464 64.5h1.0M463 65.5h1.0M468 57.5h1.0M465 69.5h1.0M465 64.5h1.0M457 64.5h1.0M459 57.5h1.0M466 66.5h1.0M456 64.5h1.0M466 70.5h1.0M461 62.5h1.0M460 58.5h1.0M468 64.5h1.0M461 60.5h1.0M460 66.5h1.0M461 59.5h1.0M465 63.5h1.0M464 61.5h1.0M463 60.5h1.0M469 64.5h1.0M462 61.5h1.0M471 63.5h1.0M464 64.5h1.0M457 70.5h1.0M459 65.5h1.0M462 67.5h1.0M469 66.5h1.0M469 62.5h1.0M461 58.5h1.0M467 68.5h1.0M462 69.5h1.0M465 66.5h1.0M465 66.5h1.0M467 66.5h1.0M461 64.5h1.0M463 65.5h1.0M465 64.5h1.0M465 65.5h1.0M460 60.5h1.0M473 61.5h1.0M462 66.5h1.0M468 62.5h1.0M465 53.5h1.0M470 64.5h1.0M463 67.5h1.0M458 67.5h1.0M465 61.5h1.0M467 63.5h1.0M458 64.5h1.0M462 60.5h1.0M471 65.5h1.0M457 67.5h1.0M463 67.5h1.0M463 59.5h1.0M463 64.5h1.0M471 61.5h1.0M461 66.5h1.0M460 71.5h1.0M469 71.5h1.0M467 65.5h1.0M467 71.5h1.0M467 64.5h1.0M461 65.5h1.0M465 68.5h1.0M466 64.5h1.0M462 62.5h1.0M461 61.5h1.0M461 64.5h1.0M463 61.5h1.0M457 67.5h1.0M464 62.5h1.0M456 70.5h1.0M465 69.5h1.0M464 58.5h1.0M459 69.5h1.0M469 62.5h1.0M471 66.5h1.0M457 64.5h1.0M471 67.5h1.0M465 61.5h1.0M464 65.5h1.0M461 66.5h1.0M464 63.5h1.0M471 66.5h1.0M467 59.5h1.0M462 66.5h1.0M461 59.5h1.0M462 67.5h1.0M467 66.5h1.0M459 61.5h1.0M462 63.5h1.0M460 65.5h1.0M466 61.5h1.0M467 70.5h1.0M457 62.5h1.0M459 68.5h1.0M470 60.5h1.0M466 65.5h1.0M467 62.5h1.0M462 68.5h1.0M462 63.5h1.0M466 60.5h1.0M462 66.5h1.0M458 59.5h1.0M464 60.5h1.0M469 67.5h1.0M459 56.5h1.0M470 67.5h1.0M468 62.5h1.0M460 60.5h1.0M464 65.5h1.0M464 67.5h1.0M467 61.5h1.0M468 63.5h1.0M457 68.5h1.0M457 67.5h1.0M469 64.5h1.0M465 61.5h1.0M466 60.5h1.0M466 61.5h1.0M472 67.5h1.0M458 67.5h1.0M470 65.5h1.0M460 70.5h1.0M468 63.5h1.0M471 62.5h1.0M457 62.5h1.0M463 65.5h1.0M464 66.5h1.0M459 64.5h1.0M468 69.5h1.0M468 68.5h1.0M461 60.5h1.0M457 66.5h1.0M470 64.5h1.0M466 65.5h1.0M459 62.5h1.0M461 67.5h1.0M465 71.5h1.0M459 69.5h1.0M472 65.5h1.0M465 56.5h1.0M466 69.5h1.0M459 69.5h1.0M459 63.5h1.0M460 62.5h1.0M466 67.5h1.0M463 61.5h1.0M463 68.5h1.0M466 59.5h1.0M465 60.5h1.0M472 64.5h1.0M463 58.5h1.0M459 64.5h1.0M464 67.5h1.0M472 58.5h1.0M461 68.5h1.0M464 62.5h1.0M462 67.5h1.0M466 65.5h1.0M465 62.5h1.0M460 62.5h1.0M463 57.5h1.0M469 61.5h1.0M470 61.5h1.0M469 71.5h1.0M469 69.5h1.0M462 58.5h1.0M462 68.5h1.0M469 65.5h1.0M458 63.5h1.0M464 66.5h1.0M462 62.5h1.0M461 63.5h1.0M458 65.5h1.0M467 60.5h1.0M460 65.5h1.0M462 64.5h1.0M463 61.5h1.0M460 61.5h1.0M471 66.5h1.0M462 68.5h1.0M465 66.5h1.0M457 61.5h1.0M462 68.5h1.0M462 65.5h1.0M463 67.5h1.0M461 69.5h1.0M465 60.5h1.0M472 64.5h1.0M463 62.5h1.0M463 60.5h1.0M472 57.5h1.0M467 66.5h1.0M468 62.5h1.0M461 69.5h1.0M463 65.5h1.0M465 64.5h1.0M465 65.5h1.0M460 66.5h1.0M460 64.5h1.0M467 63.5h1.0M466 64.5h1.0M465 59.5h1.0M471 64.5h1.0M461 64.5h1.0M465 62.5h1.0M457 68.5h1.0M468 59.5h1.0M458 63.5h1.0M458 61.5h1.0M463 67.5h1.0M476 62.5h1.0M461 65.5h1.0M458 66.5h1.0M466 57.5h1.0M465 66.5h1.0M473 61.5h1.0M458 63.5h1.0M456 64.5h1.0M463 68.5h1.0M466 68.5h1.0M470 65.5h1.0M457 62.5h1.0M460 62.5h1.0M463 67.5h1.0M468 71.5h1.0M467 66.5h1.0M462 62.5h1.0M459 65.5h1.0M469 65.5h1.0M469 64.5h1.0M472 62.5h1.0M458 69.5h1.0M461 65.5h1.0M462 64.5h1.0M460 56.5h1.0M464 65.5h1.0M462 59.5h1.0M468 68.5h1.0M464 61.5h1.0M464 67.5h1.0M472 64.5h1.0M466 59.5h1.0M465 67.5h1.0M464 58.5h1.0M464 70.5h1.0M467 65.5h1.0M460 60.5h1.0M470 56.5h1.0M472 71.5h1.0M470 71.5h1.0M462 59.5h1.0M456 71.5h1.0M462 65.5h1.0M465 63.5h1.0M468 64.5h1.0M463 63.5h1.0M463 71.5h1.0M472 65.5h1.0M461 56.5h1.0M469 68.5h1.0M457 60.5h1.0M466 63.5h1.0M461 60.5h1.0M459 65.5h1.0M456 65.5h1.0M466 62.5h1.0M462 61.5h1.0M466 68.5h1.0M459 64.5h1.0M463 61.5h1.0M456 68.5h1.0M456 65.5h1.0M466 61.5h1.0M465 70.5h1.0M459 65.5h1.0M464 60.5h1.0M468 63.5h1.0M473 69.5h1.0M460 59.5h1.0M467 70.5h1.0M464 63.5h1.0M472 70.5h1.0M472 67.5h1.0M464 65.5h1.0M468 71.5h1.0M469 60.5h1.0M470 63.5h1.0M470 63.5h1.0M464 63.5h1.0M460 58.5h1.0M462 68.5h1.0M464 65.5h1.0M466 65.5h1.0M462 70.5h1.0M464 62.5h1.0M469 64.5h1.0M466 66.5h1.0M458 68.5h1.0M461 64.5h1.0M457 70.5h1.0M458 61.5h1.0M467 65.5h1.0M459 58.5h1.0M459 64.5h1.0M463 61.5h1.0M468 70.5h1.0M462 68.5h1.0M462 67.5h1.0M467 71.5h1.0M466 67.5h1.0M469 61.5h1.0M459 58.5h1.0M465 64.5h1.0M461 63.5h1.0M469 61.5h1.0M468 63.5h1.0M459 57.5h1.0M471 71.5h1.0M458 59.5h1.0M470 61.5h1.0M465 67.5h1.0M460 57.5h1.0M458 68.5h1.0M463 68.5h1.0M464 63.5h1.0M461 60.5h1.0M467 62.5h1.0M457 56.5h1.0M464 70.5h1.0M464 65.5h1.0M466 60.5h1.0M458 67.5h1.0M461 59.5h1.0M463 62.5h1.0M469 57.5h1.0M462 67.5h1.0M472 65.5h1.0M470 64.5h1.0M471 62.5h1.0M466 61.5h1.0M461 68.5h1.0M467 57.5h1.0M469 68.5h1.0M465 65.5h1.0M463 62.5h1.0M456 60.5h1.0M468 69.5h1.0M457 62.5h1.0M465 67.5h1.0M464 62.5h1.0M468 63.5h1.0M468 59.5h1.0M457 64.5h1.0M463 64.5h1.0M467 62.5h1.0M469 61.5h1.0M471 57.5h1.0M464 60.5h1.0M468 67.5h1.0M470 62.5h1.0M473 61.5h1.0M459 67.5h1.0M462 67.5h1.0M459 61.5h1.0M468 62.5h1.0M457 67.5h1.0M470 66.5h1.0M469 61.5h1.0M467 65.5h1.0M461 69.5h1.0M468 60.5h1.0M457 68.5h1.0M463 66.5h1.0M464 60.5h1.0M469 69.5h1.0M466 68.5h1.0M466 58.5h1.0M464 59.5h1.0M463 60.5h1.0M468 63.5h1.0M463 68.5h1.0M469 67.5h1.0M455 64.5h1.0M470 70.5h1.0M463 66.5h1.0M470 71.5h1.0M469 65.5h1.0M461 62.5h1.0M465 59.5h1.0M463 65.5h1.0M465 65.5h1.0M456 59.5h1.0M463 59.5h1.0M463 63.5h1.0M460 63.5h1.0M456 69.5h1.0M471 64.5h1.0M466 64.5h1.0M460 60.5h1.0M458 64.5h1.0M466 69.5h1.0M456 69.5h1.0M465 66.5h1.0M461 63.5h1.0M462 61.5h1.0M465 70.5h1.0M464 67.5h1.0M474 62.5h1.0M457 60.5h1.0M469 56.5h1.0M457 70.5h1.0M465 65.5h1.0M458 61.5h1.0M460 63.5h1.0M461 70.5h1.0M461 58.5h1.0M461 64.5h1.0M463 59.5h1.0M472 56.5h1.0M458 65.5h1.0M467 71.5h1.0M456 64.5h1.0M462 63.5h1.0M470 65.5h1.0M464 69.5h1.0M462 58.5h1.0M460 56.5h1.0M461 66.5h1.0M465 72.5h1.0M470 65.5h1.0M469 71.5h1.0M461 61.5h1.0M460 67.5h1.0M468 71.5h1.0M462 62.5h1.0M462 68.5h1.0M458 61.5h1.0M459 58.5h1.0M466 67.5h1.0M456 71.5h1.0M459 68.5h1.0M461 58.5h1.0M464 68.5h1.0M457 67.5h1.0M470 62.5h1.0M463 69.5h1.0M462 68.5h1.0M461 67.5h1.0M459 56.5h1.0M470 57.5h1.0M465 69.5h1.0M463 68.5h1.0M469 67.5h1.0M460 63.5h1.0M467 66.5h1.0M464 62.5h1.0M459 63.5h1.0M468 60.5h1.0M456 65.5h1.0M467 62.5h1.0M459 69.5h1.0M466 68.5h1.0M471 61.5h1.0M461 59.5h1.0M464 66.5h1.0M462 69.5h1.0M458 70.5h1.0M464 69.5h1.0M467 70.5h1.0M466 61.5h1.0M464 64.5h1.0M459 62.5h1.0M469 71.5h1.0M458 61.5h1.0M467 70.5h1.0M472 67.5h1.0M465 60.5h1.0M465 62.5h1.0M465 65.5h1.0M460 69.5h1.0M462 63.5h1.0M457 69.5h1.0M465 57.5h1.0M467 50.5h1.0M460 63.5h1.0M459 66.5h1.0M461 63.5h1.0M464 60.5h1.0M464 66.5h1.0M464 64.5h1.0M457 61.5h1.0M471 64.5h1.0M457 67.5h1.0M460 70.5h1.0M465 69.5h1.0M469 60.5h1.0M467 69.5h1.0M470 68.5h1.0M464 67.5h1.0M466 69.5h1.0M466 62.5h1.0M462 64.5h1.0M470 62.5h1.0M467 68.5h1.0M469 61.5h1.0M462 66.5h1.0M469 59.5h1.0M458 64.5h1.0M466 63.5h1.0M459 65.5h1.0M468 63.5h1.0M461 63.5h1.0M456 69.5h1.0M472 61.5h1.0M467 63.5h1.0M464 60.5h1.0M466 69.5h1.0M465 60.5h1.0M471 67.5h1.0M465 70.5h1.0M462 70.5h1.0M470 67.5h1.0M467 59.5h1.0M462 70.5h1.0M467 70.5h1.0M464 68.5h1.0M467 68.5h1.0M456 65.5h1.0M459 62.5h1.0M467 69.5h1.0M463 70.5h1.0M466 59.5h1.0M462 65.5h1.0M465 68.5h1.0M461 66.5h1.0M461 70.5h1.0M463 69.5h1.0M456 68.5h1.0M471 68.5h1.0M463 65.5h1.0M469 59.5h1.0M464 68.5h1.0M465 58.5h1.0M467 69.5h1.0M458 62.5h1.0M470 69.5h1.0M459 66.5h1.0M465 67.5h1.0M464 67.5h1.0M472 65.5h1.0M462 68.5h1.0M467 64.5h1.0M464 69.5h1.0M466 66.5h1.0M459 68.5h1.0M459 71.5h1.0M465 65.5h1.0M456 69.5h1.0M459 65.5h1.0M467 67.5h1.0M461 62.5h1.0M459 68.5h1.0M458 70.5h1.0M465 64.5h1.0M462 68.5h1.0M465 66.5h1.0M463 59.5h1.0M473 66.5h1.0M462 71.5h1.0" stroke="#222" stroke-width="1.0" fill="none"/>
<path d="M454.5 73v2M454.5 73.0h-2M467.9 73v2M454.5 61.4h-2M481.2 73v2M454.5 49.9h-2M494.6 73v2M454.5 38.3h-2M508.0 73v2M454.5 26.7h-2" stroke="#555" stroke-width="0.7" fill="none"/>
<path d="M407 62.5h1.2M401 81.5h1.2M416 55.5h1.2M404 62.5h1.2M415 77.5h1.2M404 88.5h1.2M426 52.5h1.2M400 65.5h1.2M410 53.5h1.2M432 52.5h1.2M411 55.5h1.2M401 52.5h1.2M413 37.5h1.2M416 33.5h1.2M417 50.5h1.2M393 62.5h1.2M414 77.5h1.2M390 53.5h1.2M427 58.5h1.2M412 70.5h1.2M407 71.5h1.2M416 59.5h1.2M414 60.5h1.2M402 86.5h1.2M424 56.5h1.2M407 54.5h1.2M392 38.5h1.2M423 66.5h1.2M423 57.5h1.2M424 87.5h1.2M414 56.5h1.2M403 72.5h1.2M420 73.5h1.2M429 83.5h1.2M415 43.5h1.2M426 82.5h1.2M403 61.5h1.2M419 59.5h1.2M418 56.5h1.2M396 55.5h1.2M395 56.5h1.2M400 29.5h1.2M411 67.5h1.2M414 61.5h1.2M407 47.5h1.2M409 60.5h1.2M412 92.5h1.2M411 66.5h1.2M415 55.5h1.2M417 84.5h1.2M408 50.5h1.2M412 58.5h1.2M405 53.5h1.2M417 57.5h1.2M407 70.5h1.2M425 68.5h1.2M409 50.5h1.2M412 59.5h1.2M403 62.5h1.2M406 55.5h1.2M411 60.5h1.2M409 51.5h1.2M403 50.5h1.2M400 61.5h1.2M409 46.5h1.2M412 66.5h1.2M415 58.5h1.2M420 48.5h1.2M406 52.5h1.2M392 54.5h1.2M409 58.5h1.2M394 62.5h1.2M398 58.5h1.2M418 49.5h1.2M417 80.5h1.2M406 73.5h1.2M405 62.5h1.2M411 73.5h1.2M395 65.5h1.2M414 57.5h1.2M407 62.5h1.2M430 97.5h1.2M402 74.5h1.2M420 75.5h1.2M403 55.5h1.2M420 69.5h1.2M404 91.5h1.2M417 66.5h1.2M408 75.5h1.2M404 78.5h1.2M410 69.5h1.2M416 82.5h1.2M414 64.5h1.2M425 67.5h1.2M417 52.5h1.2M390 96.5h1.2M407 65.5h1.2M392 62.5h1.2M408 79.5h1.2M415 54.5h1.2M398 60.5h1.2M398 50.5h1.2M411 61.5h1.2M407 55.5h1.2M425 68.5h1.2M413 59.5h1.2M414 52.5h1.2M425 56.5h1.2M405 59.5h1.2M409 53.5h1.2M402 73.5h1.2M413 70.5h1.2M420 62.5h1.2M421 44.5h1.2M410 67.5h1.2M402 43.5h1.2M403 63.5h1.2M398 61.5h1.2M410 52.5h1.2M421 49.5h1.2M388 51.5h1.2M393 88.5h1.2M422 57.5h1.2M395 58.5h1.2M414 73.5h1.2M399 66.5h1.2M419 75.5h1.2M415 44.5h1.2M410 46.5h1.2M422 105.5h1.2M410 60.5h1.2M415 56.5h1.2M427 63.5h1.2M421 74.5h1.2M403 44.5h1.2M403 64.5h1.2M408 60.5h1.2M409 69.5h1.2M411 63.5h1.2M404 53.5h1.2M415 49.5h1.2M407 27.5h1.2M415 74.5h1.2M408 41.5h1.2M415 55.5h1.2M402 83.5h1.2M424 55.5h1.2M414 69.5h1.2M414 58.5h1.2M417 70.5h1.2M420 61.5h1.2M416 54.5h1.2M414 79.5h1.2M408 57.5h1.2M394 42.5h1.2M412 56.5h1.2M408 68.5h1.2M406 45.5h1.2M408 71.5h1.2M395 71.5h1.2M414 89.5h1.2M420 52.5h1.2M420 69.5h1.2M419 38.5h1.2M398 55.5h1.2M402 62.5h1.2M416 66.5h1.2M407 60.5h1.2M426 59.5h1.2M411 52.5h1.2M411 54.5h1.2M415 64.5h1.2M409 68.5h1.2M412 69.5h1.2M406 74.5h1.2M412 76.5h1.2M403 36.5h1.2M412 53.5h1.2M397 58.5h1.2M396 52.5h1.2M416 74.5h1.2M413 70.5h1.2M401 59.5h1.2M408 62.5h1.2M403 77.5h1.2M428 56.5h1.2M396 56.5h1.2M427 73.5h1.2M404 67.5h1.2M416 79.5h1.2M408 65.5h1.2M408 70.5h1.2M418 53.5h1.2M416 48.5h1.2M408 60.5h1.2M399 25.5h1.2M430 66.5h1.2M424 73.5h1.2M412 61.5h1.2M407 57.5h1.2M414 75.5h1.2M411 60.5h1.2M422 74.5h1.2M405 90.5h1.2M411 70.5h1.2M405 73.5h1.2M423 67.5h1.2M427 64.5h1.2M410 64.5h1.2M415 61.5h1.2M424 75.5h1.2M405 39.5h1.2M402 57.5h1.2M421 69.5h1.2M414 49.5h1.2M408 59.5h1.2M423 51.5h1.2M413 66.5h1.2M395 72.5h1.2M415 80.5h1.2M410 67.5h1.2M426 51.5h1.2M411 64.5h1.2M409 68.5h1.2M416 79.5h1.2M410 32.5h1.2M398 65.5h1.2M409 36.5h1.2M408 70.5h1.2M424 66.5h1.2M415 67.5h1.2M401 72.5h1.2M402 66.5h1.2M402 52.5h1.2M405 65.5h1.2M406 76.5h1.2M411 59.5h1.2M420 61.5h1.2M397 44.5h1.2M398 76.5h1.2M393 54.5h1.2M419 50.5h1.2M422 54.5h1.2M395 49.5h1.2M395 57.5h1.2M413 77.5h1.2M421 71.5h1.2M421 79.5h1.2M414 80.5h1.2M415 48.5h1.2M414 67.5h1.2M407 80.5h1.2M431 91.5h1.2M408 41.5h1.2M398 41.5h1.2M407 67.5h1.2M396 56.5h1.2M409 47.5h1.2M421 65.5h1.2M398 50.5h1.2M417 30.5h1.2M429 60.5h1.2M414 62.5h1.2M401 69.5h1.2M404 73.5h1.2M408 63.5h1.2M399 57.5h1.2M398 51.5h1.2M406 38.5h1.2M408 54.5h1.2M417 74.5h1.2M400 69.5h1.2M430 88.5h1.2M420 58.5h1.2M416 36.5h1.2M406 71.5h1.2M427 74.5h1.2M406 45.5h1.2M425 39.5h1.2M420 62.5h1.2M403 70.5h1.2M405 45.5h1.2M427 56.5h1.2M418 50.5h1.2M407 44.5h1.2M410 43.5h1.2M412 62.5h1.2M403 55.5h1.2M408 51.5h1.2M401 25.5h1.2M409 84.5h1.2M413 48.5h1.2M402 58.5h1.2M415 45.5h1.2M412 65.5h1.2M415 40.5h1.2M419 61.5h1.2M421 58.5h1.2M417 72.5h1.2M415 46.5h1.2M408 52.5h1.2M415 57.5h1.2M405 88.5h1.2M406 41.5h1.2M418 64.5h1.2M409 51.5h1.2M415 64.5h1.2M402 69.5h1.2M423 62.5h1.2M406 64.5h1.2M414 64.5h1.2M409 52.5h1.2M418 57.5h1.2M405 38.5h1.2M401 55.5h1.2M392 50.5h1.2M407 57.5h1.2M401 70.5h1.2M416 65.5h1.2M424 66.5h1.2M392 75.5h1.2M396 28.5h1.2M414 66.5h1.2M421 60.5h1.2M413 59.5h1.2M412 43.5h1.2M416 67.5h1.2M417 75.5h1.2M427 74.5h1.2M416 59.5h1.2M400 69.5h1.2M407 72.5h1.2M415 84.5h1.2M405 76.5h1.2M408 62.5h1.2M406 61.5h1.2M404 62.5h1.2M417 63.5h1.2M406 53.5h1.2M402 70.5h1.2M403 51.5h1.2M410 49.5h1.2M430 65.5h1.2M412 52.5h1.2M423 57.5h1.2M412 32.5h1.2M392 71.5h1.2M414 60.5h1.2M402 58.5h1.2M399 66.5h1.2M401 63.5h1.2M426 51.5h1.2M399 87.5h1.2M404 54.5h1.2M422 73.5h1.2M419 84.5h1.2M394 52.5h1.2M409 61.5h1.2M405 49.5h1.2M410 74.5h1.2M417 56.5h1.2M404 45.5h1.2M409 78.5h1.2M425 72.5h1.2M392 48.5h1.2M409 76.5h1.2M415 63.5h1.2M403 96.5h1.2M407 83.5h1.2M398 53.5h1.2M411 56.5h1.2M404 48.5h1.2M418 62.5h1.2M420 61.5h1.2M412 70.5h1.2M407 61.5h1.2M411 40.5h1.2M410 49.5h1.2M401 79.5h1.2M422 75.5h1.2M412 58.5h1.2M417 58.5h1.2M398 58.5h1.2M418 60.5h1.2M427 38.5h1.2M417 72.5h1.2M396 51.5h1.2M411 62.5h1.2M406 26.5h1.2M413 63.5h1.2M410 78.5h1.2M412 30.5h1.2M408 80.5h1.2M413 66.5h1.2M403 50.5h1.2M409 39.5h1.2M421 76.5h1.2M406 63.5h1.2M417 68.5h1.2M402 56.5h1.2M406 49.5h1.2M409 72.5h1.2M420 47.5h1.2M405 72.5h1.2M419 38.5h1.2M396 48.5h1.2M407 41.5h1.2M420 78.5h1.2M414 37.5h1.2M400 45.5h1.2M400 69.5h1.2M419 63.5h1.2M402 89.5h1.2M418 85.5h1.2M406 68.5h1.2M411 69.5h1.2M429 36.5h1.2M423 48.5h1.2M417 56.5h1.2M398 58.5h1.2M411 42.5h1.2M410 48.5h1.2M408 49.5h1.2M424 74.5h1.2M395 66.5h1.2M413 56.5h1.2M411 56.5h1.2M404 64.5h1.2M425 51.5h1.2M398 56.5h1.2M408 37.5h1.2M412 69.5h1.2M392 73.5h1.2M398 65.5h1.2M402 66.5h1.2M418 65.5h1.2M422 87.5h1.2M416 63.5h1.2M411 42.5h1.2M389 46.5h1.2M413 70.5h1.2M407 74.5h1.2M422 70.5h1.2M424 71.5h1.2M431 62.5h1.2M415 40.5h1.2M417 50.5h1.2M398 36.5h1.2M410 55.5h1.2M397 42.5h1.2M419 61.5h1.2M399 58.5h1.2M406 34.5h1.2M404 70.5h1.2M407 70.5h1.2M413 41.5h1.2M405 62.5h1.2M413 70.5h1.2M401 56.5h1.2M424 71.5h1.2M405 62.5h1.2M421 74.5h1.2M430 62.5h1.2M388 58.5h1.2M402 67.5h1.2M409 70.5h1.2M421 63.5h1.2M405 54.5h1.2M413 49.5h1.2M403 55.5h1.2M415 52.5h1.2M399 63.5h1.2M418 62.5h1.2M383 59.5h1.2M393 60.5h1.2M427 62.5h1.2M414 81.5h1.2M404 76.5h1.2M430 52.5h1.2M420 66.5h1.2M420 55.5h1.2M406 59.5h1.2M415 57.5h1.2M414 51.5h1.2M393 41.5h1.2M412 27.5h1.2M409 62.5h1.2M424 76.5h1.2M421 48.5h1.2M405 67.5h1.2M404 55.5h1.2M412 64.5h1.2M415 49.5h1.2M406 57.5h1.2M409 58.5h1.2M413 28.5h1.2M414 63.5h1.2M421 58.5h1.2M409 26.5h1.2M403 69.5h1.2M394 59.5h1.2M418 62.5h1.2M408 65.5h1.2M406 54.5h1.2M406 45.5h1.2M395 54.5h1.2M406 54.5h1.2M389 90.5h1.2M409 85.5h1.2M401 53.5h1.2M426 54.5h1.2M415 64.5h1.2M409 67.5h1.2M411 50.5h1.2M415 46.5h1.2M406 86.5h1.2M409 74.5h1.2M405 39.5h1.2M431 36.5h1.2M410 48.5h1.2M392 63.5h1.2M418 67.5h1.2M410 55.5h1.2M399 38.5h1.2M431 63.5h1.2M410 68.5h1.2M419 60.5h1.2M404 53.5h1.2M408 67.5h1.2M399 59.5h1.2M399 44.5h1.2M390 61.5h1.2M419 42.5h1.2M401 73.5h1.2M414 66.5h1.2M412 46.5h1.2M404 62.5h1.2M412 77.5h1.2M406 30.5h1.2M405 58.5h1.2M413 82.5h1.2M408 38.5h1.2M400 57.5h1.2M396 40.5h1.2M402 59.5h1.2M408 27.5h1.2M421 37.5h1.2M423 52.5h1.2M413 61.5h1.2M419 65.5h1.2M412 65.5h1.2M422 75.5h1.2M412 69.5h1.2M415 70.5h1.2M406 46.5h1.2M410 57.5h1.2M412 103.5h1.2M402 91.5h1.2M411 71.5h1.2M406 70.5h1.2M420 73.5h1.2M426 54.5h1.2M410 86.5h1.2M384 54.5h1.2M416 58.5h1.2M419 89.5h1.2M391 31.5h1.2M408 65.5h1.2M407 36.5h1.2M388 51.5h1.2M416 58.5h1.2M414 55.5h1.2M412 62.5h1.2M399 49.5h1.2M403 58.5h1.2M402 43.5h1.2M414 54.5h1.2M399 40.5h1.2M424 69.5h1.2M412 42.5h1.2M391 69.5h1.2M425 54.5h1.2M411 55.5h1.2M406 76.5h1.2M411 61.5h1.2M390 33.5h1.2M412 66.5h1.2M383 20.5h1.2M401 63.5h1.2M422 54.5h1.2M420 40.5h1.2M407 61.5h1.2M400 55.5h1.2M421 87.5h1.2M409 54.5h1.2M415 86.5h1.2M418 79.5h1.2M399 51.5h1.2M416 48.5h1.2M392 78.5h1.2M423 58.5h1.2M395 62.5h1.2M404 56.5h1.2M402 43.5h1.2M416 54.5h1.2M416 46.5h1.2M411 38.5h1.2M415 56.5h1.2M417 84.5h1.2M411 82.5h1.2M392 59.5h1.2M388 61.5h1.2M389 67.5h1.2M411 78.5h1.2M408 64.5h1.2M408 53.5h1.2M411 54.5h1.2M409 75.5h1.2M404 96.5h1.2M395 51.5h1.2M389 31.5h1.2M422 71.5h1.2M418 59.5h1.2M397 62.5h1.2M409 77.5h1.2M414 61.5h1.2M423 41.5h1.2M401 32.5h1.2M411 59.5h1.2M419 43.5h1.2M394 64.5h1.2M401 42.5h1.2M409 55.5h1.2M401 39.5h1.2M429 55.5h1.2M417 53.5h1.2M412 68.5h1.2M403 78.5h1.2M418 57.5h1.2M415 48.5h1.2M408 87.5h1.2M406 65.5h1.2M397 68.5h1.2M410 68.5h1.2M420 80.5h1.2M421 74.5h1.2M416 69.5h1.2M419 70.5h1.2M403 48.5h1.2M404 51.5h1.2M421 58.5h1.2M414 61.5h1.2M402 60.5h1.2M415 64.5h1.2M418 60.5h1.2M416 54.5h1.2M408 37.5h1.2M406 71.5h1.2M414 68.5h1.2M424 47.5h1.2M412 67.5h1.2M404 65.5h1.2M413 61.5h1.2M396 34.5h1.2M410 43.5h1.2M406 51.5h1.2M421 82.5h1.2M409 48.5h1.2M419 55.5h1.2M430 44.5h1.2M407 53.5h1.2M402 64.5h1.2M411 31.5h1.2M405 20.5h1.2M412 69.5h1.2M404 60.5h1.2M414 51.5h1.2M412 73.5h1.2M391 73.5h1.2M405 30.5h1.2M413 57.5h1.2M422 75.5h1.2M403 50.5h1.2M402 55.5h1.2M422 73.5h1.2M404 56.5h1.2M409 43.5h1.2M413 50.5h1.2M415 41.5h1.2M411 67.5h1.2M397 36.5h1.2M421 74.5h1.2M403 37.5h1.2M405 60.5h1.2M426 39.5h1.2M417 55.5h1.2M401 74.5h1.2M407 75.5h1.2M409 78.5h1.2M403 58.5h1.2M392 61.5h1.2M417 63.5h1.2M418 68.5h1.2M411 54.5h1.2M407 75.5h1.2M412 64.5h1.2M417 76.5h1.2M401 66.5h1.2M407 69.5h1.2M403 49.5h1.2M416 54.5h1.2M410 42.5h1.2M397 55.5h1.2M404 57.5h1.2M427 71.5h1.2M399 42.5h1.2M416 105.5h1.2M404 58.5h1.2M423 77.5h1.2M410 74.5h1.2M402 24.5h1.2M398 56.5h1.2M409 80.5h1.2M414 26.5h1.2M417 70.5h1.2M396 47.5h1.2M424 53.5h1.2M408 63.5h1.2M397 34.5h1.2M411 62.5h1.2M403 51.5h1.2M403 49.5h1.2M405 69.5h1.2M414 109.5h1.2M405 64.5h1.2M394 67.5h1.2M414 59.5h1.2M404 49.5h1.2M421 63.5h1.2M417 81.5h1.2M416 62.5h1.2M413 72.5h1.2M421 56.5h1.2M410 95.5h1.2M398 37.5h1.2M414 68.5h1.2M385 67.5h1.2M407 63.5h1.2M410 44.5h1.2M404 44.5h1.2M421 56.5h1.2M416 61.5h1.2M409 43.5h1.2M404 45.5h1.2M421 67.5h1.2M405 74.5h1.2M405 52.5h1.2M416 50.5h1.2M414 49.5h1.2M413 94.5h1.2M408 66.5h1.2M392 59.5h1.2M417 74.5h1.2M424 92.5h1.2M410 76.5h1.2M422 40.5h1.2M426 58.5h1.2M403 54.5h1.2M405 55.5h1.2M396 42.5h1.2M414 54.5h1.2M415 44.5h1.2M416 64.5h1.2M398 60.5h1.2M400 40.5h1.2M394 36.5h1.2M394 53.5h1.2M398 69.5h1.2M395 66.5h1.2M408 59.5h1.2M409 13.5h1.2M415 53.5h1.2M408 49.5h1.2M403 55.5h1.2M408 42.5h1.2M414 53.5h1.2M406 50.5h1.2M414 98.5h1.2M408 69.5h1.2M404 57.5h1.2M410 59.5h1.2M399 58.5h1.2M419 62.5h1.2M394 54.5h1.2M414 59.5h1.2M398 74.5h1.2M425 71.5h1.2M418 64.5h1.2M404 78.5h1.2M406 63.5h1.2M398 46.5h1.2M406 35.5h1.2M412 50.5h1.2M414 59.5h1.2M397 65.5h1.2M422 75.5h1.2M403 51.5h1.2M411 48.5h1.2M419 70.5h1.2M416 76.5h1.2M413 53.5h1.2M408 64.5h1.2M411 79.5h1.2M411 64.5h1.2M420 59.5h1.2M393 30.5h1.2M407 78.5h1.2M399 68.5h1.2M401 61.5h1.2M401 53.5h1.2M418 42.5h1.2M429 58.5h1.2M422 58.5h1.2M400 75.5h1.2M408 42.5h1.2M401 80.5h1.2M414 60.5h1.2M423 76.5h1.2M414 46.5h1.2M418 64.5h1.2M410 77.5h1.2M391 61.5h1.2M389 39.5h1.2M408 55.5h1.2M416 67.5h1.2M419 40.5h1.2M404 39.5h1.2M410 63.5h1.2M410 46.5h1.2M420 69.5h1.2M407 43.5h1.2M397 34.5h1.2M418 49.5h1.2M415 80.5h1.2M412 47.5h1.2M398 59.5h1.2M410 63.5h1.2M392 46.5h1.2M392 75.5h1.2M407 62.5h1.2M406 66.5h1.2M412 36.5h1.2M420 35.5h1.2M405 21.5h1.2M426 57.5h1.2M404 56.5h1.2M418 70.5h1.2M400 80.5h1.2M410 56.5h1.2M406 56.5h1.2M408 66.5h1.2M417 81.5h1.2M391 48.5h1.2M411 68.5h1.2M402 56.5h1.2M410 55.5h1.2M414 71.5h1.2M405 48.5h1.2M405 44.5h1.2M400 69.5h1.2M414 59.5h1.2M403 56.5h1.2M413 58.5h1.2M397 66.5h1.2M422 54.5h1.2M401 70.5h1.2M421 65.5h1.2M407 80.5h1.2M416 77.5h1.2M409 72.5h1.2M415 57.5h1.2M410 61.5h1.2M420 51.5h1.2M420 99.5h1.2M415 56.5h1.2M426 67.5h1.2M405 79.5h1.2M420 40.5h1.2M409 48.5h1.2M395 54.5h1.2M412 46.5h1.2M406 42.5h1.2M424 52.5h1.2M407 78.5h1.2M411 70.5h1.2M412 60.5h1.2M392 60.5h1.2M412 36.5h1.2M401 69.5h1.2M423 66.5h1.2M423 44.5h1.2M410 62.5h1.2M395 57.5h1.2M410 52.5h1.2M410 46.5h1.2M415 50.5h1.2M405 46.5h1.2M399 66.5h1.2M409 65.5h1.2M401 64.5h1.2M426 57.5h1.2M402 54.5h1.2M406 88.5h1.2M406 33.5h1.2M400 76.5h1.2M406 65.5h1.2M408 61.5h1.2M404 52.5h1.2M407 57.5h1.2M419 43.5h1.2M412 40.5h1.2M397 58.5h1.2M403 36.5h1.2M418 71.5h1.2M405 75.5h1.2M405 11.5h1.2M407 38.5h1.2M415 63.5h1.2M408 63.5h1.2M408 61.5h1.2M402 66.5h1.2M414 70.5h1.2M402 72.5h1.2M428 85.5h1.2M409 60.5h1.2M409 72.5h1.2M414 37.5h1.2M408 58.5h1.2M409 43.5h1.2M411 79.5h1.2M406 92.5h1.2M402 67.5h1.2M401 41.5h1.2M420 58.5h1.2M404 60.5h1.2M406 62.5h1.2M407 75.5h1.2M417 73.5h1.2M424 23.5h1.2M403 79.5h1.2M414 53.5h1.2M410 52.5h1.2M409 79.5h1.2M414 56.5h1.2M396 40.5h1.2M415 41.5h1.2M412 60.5h1.2M402 72.5h1.2M426 81.5h1.2M417 57.5h1.2M420 53.5h1.2M398 82.5h1.2M406 53.5h1.2M407 80.5h1.2M416 63.5h1.2M422 63.5h1.2M392 56.5h1.2M410 64.5h1.2M408 53.5h1.2M418 50.5h1.2M409 58.5h1.2M397 51.5h1.2M408 64.5h1.2M400 61.5h1.2M402 56.5h1.2M410 57.5h1.2M405 56.5h1.2M414 84.5h1.2M395 60.5h1.2M430 51.5h1.2M421 56.5h1.2M417 69.5h1.2M397 57.5h1.2M389 58.5h1.2M401 56.5h1.2M408 62.5h1.2M417 65.5h1.2M422 66.5h1.2M402 37.5h1.2M419 45.5h1.2M417 23.5h1.2M411 71.5h1.2M422 75.5h1.2M414 78.5h1.2M404 62.5h1.2M400 76.5h1.2M408 59.5h1.2M418 58.5h1.2M395 38.5h1.2M394 49.5h1.2M414 51.5h1.2M386 73.5h1.2M429 83.5h1.2M405 53.5h1.2M417 65.5h1.2M427 64.5h1.2M395 49.5h1.2M397 36.5h1.2M429 49.5h1.2M405 40.5h1.2M408 55.5h1.2M411 58.5h1.2M419 57.5h1.2M421 57.5h1.2M411 66.5h1.2M405 47.5h1.2M410 72.5h1.2M410 36.5h1.2M422 61.5h1.2M411 65.5h1.2M425 49.5h1.2M399 37.5h1.2M415 69.5h1.2M425 50.5h1.2M422 71.5h1.2M414 70.5h1.2M401 60.5h1.2M403 60.5h1.2M409 73.5h1.2M413 65.5h1.2M406 47.5h1.2M396 62.5h1.2M403 67.5h1.2M415 62.5h1.2M417 62.5h1.2M396 58.5h1.2M406 58.5h1.2M393 47.5h1.2M402 40.5h1.2M434 75.5h1.2M409 51.5h1.2M407 63.5h1.2M402 39.5h1.2M399 62.5h1.2M391 48.5h1.2M413 101.5h1.2M405 45.5h1.2M422 46.5h1.2M396 73.5h1.2M415 75.5h1.2M419 30.5h1.2M392 63.5h1.2M417 72.5h1.2M393 43.5h1.2M415 69.5h1.2M422 52.5h1.2M408 46.5h1.2M412 55.5h1.2M402 53.5h1.2M410 40.5h1.2M423 91.5h1.2M407 53.5h1.2M407 49.5h1.2M414 71.5h1.2M417 59.5h1.2M396 78.5h1.2M410 56.5h1.2M404 64.5h1.2M414 61.5h1.2M419 62.5h1.2M412 57.5h1.2M421 58.5h1.2M403 83.5h1.2M405 50.5h1.2M400 52.5h1.2M410 55.5h1.2M411 68.5h1.2M408 65.5h1.2M400 73.5h1.2M407 41.5h1.2M406 63.5h1.2M415 57.5h1.2M407 56.5h1.2M420 62.5h1.2M409 32.5h1.2M393 63.5h1.2M408 62.5h1.2M394 40.5h1.2M418 58.5h1.2M425 81.5h1.2M409 54.5h1.2M414 68.5h1.2M396 56.5h1.2M388 48.5h1.2M403 47.5h1.2M407 54.5h1.2M397 78.5h1.2M411 71.5h1.2M411 50.5h1.2M417 73.5h1.2M424 58.5h1.2M416 50.5h1.2M407 66.5h1.2M409 47.5h1.2M413 38.5h1.2M402 78.5h1.2M419 34.5h1.2M419 67.5h1.2M405 38.5h1.2M404 59.5h1.2M433 57.5h1.2M417 54.5h1.2M415 29.5h1.2M426 58.5h1.2M418 59.5h1.2M410 47.5h1.2M416 59.5h1.2M402 73.5h1.2M415 50.5h1.2M396 63.5h1.2M412 44.5h1.2M415 65.5h1.2M396 68.5h1.2M431 94.5h1.2M400 72.5h1.2M420 66.5h1.2M407 79.5h1.2M411 46.5h1.2M405 74.5h1.2M426 52.5h1.2M418 51.5h1.2M428 75.5h1.2M417 63.5h1.2M418 78.5h1.2M409 40.5h1.2M408 63.5h1.2M414 52.5h1.2M411 56.5h1.2M406 33.5h1.2M398 73.5h1.2M407 63.5h1.2M414 46.5h1.2M403 41.5h1.2M412 48.5h1.2M410 79.5h1.2M400 58.5h1.2M401 55.5h1.2M404 67.5h1.2M407 60.5h1.2M408 63.5h1.2M421 70.5h1.2M400 64.5h1.2M392 72.5h1.2M414 43.5h1.2M406 61.5h1.2M408 55.5h1.2M433 61.5h1.2M423 59.5h1.2M414 51.5h1.2M418 55.5h1.2M412 73.5h1.2M418 52.5h1.2M402 43.5h1.2M404 68.5h1.2M407 73.5h1.2M424 56.5h1.2M424 62.5h1.2M403 48.5h1.2M420 57.5h1.2M410 75.5h1.2M421 71.5h1.2M407 62.5h1.2M418 56.5h1.2M407 38.5h1.2M408 64.5h1.2M410 66.5h1.2M413 74.5h1.2M407 88.5h1.2M398 65.5h1.2M427 73.5h1.2M405 45.5h1.2M395 76.5h1.2M390 72.5h1.2M386 79.5h1.2M405 69.5h1.2M423 66.5h1.2M397 80.5h1.2M406 51.5h1.2M394 69.5h1.2M422 75.5h1.2M412 49.5h1.2M411 44.5h1.2M423 66.5h1.2M425 62.5h1.2M420 68.5h1.2M405 69.5h1.2M397 50.5h1.2M401 65.5h1.2M395 76.5h1.2M426 55.5h1.2M408 56.5h1.2M410 45.5h1.2M413 71.5h1.2M431 87.5h1.2M403 41.5h1.2M422 71.5h1.2M414 72.5h1.2M408 53.5h1.2M392 55.5h1.2M417 46.5h1.2M402 49.5h1.2M406 62.5h1.2M413 69.5h1.2M411 62.5h1.2M421 72.5h1.2M404 63.5h1.2M410 44.5h1.2M414 80.5h1.2M412 76.5h1.2M415 51.5h1.2M410 84.5h1.2M422 67.5h1.2M404 62.5h1.2M399 86.5h1.2M406 26.5h1.2M419 38.5h1.2M406 70.5h1.2M404 57.5h1.2M405 47.5h1.2M413 81.5h1.2M409 67.5h1.2M411 43.5h1.2M393 51.5h1.2M425 72.5h1.2M418 85.5h1.2M399 33.5h1.2M423 64.5h1.2M414 55.5h1.2M421 37.5h1.2M399 58.5h1.2M423 38.5h1.2M410 53.5h1.2M393 82.5h1.2M418 67.5h1.2M408 71.5h1.2M401 69.5h1.2M408 65.5h1.2M393 74.5h1.2M414 45.5h1.2M407 56.5h1.2M409 72.5h1.2M422 50.5h1.2M410 54.5h1.2M405 77.5h1.2M403 81.5h1.2M409 52.5h1.2M419 49.5h1.2M405 68.5h1.2M401 64.5h1.2M418 51.5h1.2M411 69.5h1.2M410 68.5h1.2M429 62.5h1.2M403 101.5h1.2M414 79.5h1.2M395 72.5h1.2M409 75.5h1.2M419 101.5h1.2M422 76.5h1.2M397 51.5h1.2M418 65.5h1.2M417 62.5h1.2M408 53.5h1.2M428 64.5h1.2M410 64.5h1.2M402 60.5h1.2M413 54.5h1.2M394 72.5h1.2M422 39.5h1.2M420 72.5h1.2M406 61.5h1.2M416 64.5h1.2M412 28.5h1.2M430 84.5h1.2M402 37.5h1.2M397 49.5h1.2M392 69.5h1.2M406 52.5h1.2M395 55.5h1.2M405 30.5h1.2M413 55.5h1.2M406 64.5h1.2M402 70.5h1.2M421 57.5h1.2M408 64.5h1.2M413 67.5h1.2M418 51.5h1.2M397 50.5h1.2M404 87.5h1.2M421 49.5h1.2M410 78.5h1.2M400 62.5h1.2M410 81.5h1.2M404 52.5h1.2M399 68.5h1.2M407 65.5h1.2M409 58.5h1.2M410 65.5h1.2M414 50.5h1.2M394 60.5h1.2M396 55.5h1.2M418 71.5h1.2M406 59.5h1.2M419 42.5h1.2M412 56.5h1.2M397 59.5h1.2M414 48.5h1.2M402 79.5h1.2M413 66.5h1.2M422 72.5h1.2M428 50.5h1.2M409 55.5h1.2M418 74.5h1.2M411 41.5h1.2M418 66.5h1.2M386 62.5h1.2M406 54.5h1.2M413 62.5h1.2M413 46.5h1.2M403 64.5h1.2M416 44.5h1.2M418 43.5h1.2M413 80.5h1.2M407 51.5h1.2M404 32.5h1.2M413 74.5h1.2M420 50.5h1.2M419 12.5h1.2M406 60.5h1.2M403 73.5h1.2M403 65.5h1.2M421 84.5h1.2M412 59.5h1.2M414 69.5h1.2M413 47.5h1.2M414 63.5h1.2M411 82.5h1.2M401 68.5h1.2M404 63.5h1.2M408 33.5h1.2M416 94.5h1.2M413 73.5h1.2M420 95.5h1.2M415 68.5h1.2M416 101.5h1.2M425 66.5h1.2M417 59.5h1.2M416 92.5h1.2M426 83.5h1.2M414 86.5h1.2M418 90.5h1.2M417 85.5h1.2M413 74.5h1.2M416 88.5h1.2M419 89.5h1.2M409 91.5h1.2M418 109.5h1.2M418 76.5h1.2M420 86.5h1.2M420 92.5h1.2M422 79.5h1.2M421 70.5h1.2M416 78.5h1.2M418 98.5h1.2M417 82.5h1.2M421 93.5h1.2M415 76.5h1.2M428 90.5h1.2M410 77.5h1.2M421 75.5h1.2M421 86.5h1.2M410 86.5h1.2M424 103.5h1.2M419 65.5h1.2M414 91.5h1.2M427 105.5h1.2M424 102.5h1.2M415 80.5h1.2M414 77.5h1.2M412 79.5h1.2M420 89.5h1.2M418 87.5h1.2M409 89.5h1.2M412 92.5h1.2M412 72.5h1.2M414 71.5h1.2M414 70.5h1.2M412 68.5h1.2M422 84.5h1.2M424 89.5h1.2M421 116.5h1.2M404 92.5h1.2M417 85.5h1.2M423 102.5h1.2M416 76.5h1.2M420 89.5h1.2M420 97.5h1.2M409 95.5h1.2M402 90.5h1.2M421 81.5h1.2M413 70.5h1.2M420 83.5h1.2M415 78.5h1.2M417 93.5h1.2M426 83.5h1.2M411 92.5h1.2M416 65.5h1.2M412 97.5h1.2M417 75.5h1.2M419 66.5h1.2M420 68.5h1.2M418 77.5h1.2M410 99.5h1.2M420 94.5h1.2M422 71.5h1.2M424 86.5h1.2M431 84.5h1.2M419 66.5h1.2M410 73.5h1.2M412 60.5h1.2M417 74.5h1.2M421 52.5h1.2M409 75.5h1.2M422 73.5h1.2M421 75.5h1.2M411 75.5h1.2M423 99.5h1.2M412 81.5h1.2M418 88.5h1.2M417 94.5h1.2M420 96.5h1.2M411 93.5h1.2M420 78.5h1.2M402 72.5h1.2M414 75.5h1.2M414 79.5h1.2M428 85.5h1.2M421 84.5h1.2M416 98.5h1.2M412 84.5h1.2M420 107.5h1.2M415 98.5h1.2M432 79.5h1.2M401 96.5h1.2M415 50.5h1.2M404 102.5h1.2M425 90.5h1.2M413 90.5h1.2M426 64.5h1.2M417 116.5h1.2M424 82.5h1.2M419 83.5h1.2M427 99.5h1.2M418 83.5h1.2M398 75.5h1.2M414 93.5h1.2M406 73.5h1.2M425 94.5h1.2M421 87.5h1.2M419 99.5h1.2M419 70.5h1.2M421 100.5h1.2M414 89.5h1.2M424 109.5h1.2M418 77.5h1.2M419 108.5h1.2M409 94.5h1.2M415 95.5h1.2M417 76.5h1.2M417 92.5h1.2M415 93.5h1.2M416 75.5h1.2M409 71.5h1.2M417 76.5h1.2M410 103.5h1.2M412 87.5h1.2M414 96.5h1.2M424 89.5h1.2M421 86.5h1.2M418 88.5h1.2M410 80.5h1.2M417 100.5h1.2M423 87.5h1.2M426 88.5h1.2M407 68.5h1.2M415 89.5h1.2M418 77.5h1.2M419 79.5h1.2M419 98.5h1.2M421 72.5h1.2M408 83.5h1.2M429 93.5h1.2M412 99.5h1.2M418 79.5h1.2M422 89.5h1.2M426 89.5h1.2M422 71.5h1.2M421 59.5h1.2M424 61.5h1.2M418 92.5h1.2M423 86.5h1.2M426 69.5h1.2M412 77.5h1.2M408 80.5h1.2M411 81.5h1.2M427 85.5h1.2M429 112.5h1.2M415 75.5h1.2M420 87.5h1.2M420 76.5h1.2M424 77.5h1.2M405 74.5h1.2M414 82.5h1.2M415 78.5h1.2M420 89.5h1.2M419 88.5h1.2M415 74.5h1.2M422 109.5h1.2M400 71.5h1.2M434 89.5h1.2M426 112.5h1.2M423 76.5h1.2M415 101.5h1.2M422 102.5h1.2M432 89.5h1.2M427 62.5h1.2M420 102.5h1.2M410 86.5h1.2M418 78.5h1.2M417 101.5h1.2M423 76.5h1.2M411 98.5h1.2M416 78.5h1.2M420 92.5h1.2M414 72.5h1.2M424 80.5h1.2M409 74.5h1.2M409 76.5h1.2M416 87.5h1.2M423 83.5h1.2M416 87.5h1.2M416 101.5h1.2M423 84.5h1.2M417 62.5h1.2M414 81.5h1.2M419 86.5h1.2M418 97.5h1.2M423 98.5h1.2M420 97.5h1.2M412 82.5h1.2M416 93.5h1.2M413 67.5h1.2M422 101.5h1.2M421 90.5h1.2M413 91.5h1.2M416 80.5h1.2M420 86.5h1.2M424 77.5h1.2M420 92.5h1.2M429 69.5h1.2M419 97.5h1.2M423 92.5h1.2M418 110.5h1.2M411 85.5h1.2M418 84.5h1.2M421 87.5h1.2M420 85.5h1.2M419 84.5h1.2M414 71.5h1.2M411 71.5h1.2M415 78.5h1.2M421 81.5h1.2M423 70.5h1.2M395 71.5h1.2M421 82.5h1.2M426 94.5h1.2M426 83.5h1.2M421 93.5h1.2M423 97.5h1.2M416 94.5h1.2M417 80.5h1.2M421 80.5h1.2M408 62.5h1.2M412 77.5h1.2M420 91.5h1.2M408 72.5h1.2M420 102.5h1.2M410 103.5h1.2M419 80.5h1.2M419 96.5h1.2M412 68.5h1.2M410 72.5h1.2M414 80.5h1.2M403 85.5h1.2M415 83.5h1.2M418 74.5h1.2M428 109.5h1.2M415 89.5h1.2M417 89.5h1.2M428 93.5h1.2M429 87.5h1.2M414 82.5h1.2M424 78.5h1.2M424 65.5h1.2M423 103.5h1.2M410 74.5h1.2M410 65.5h1.2M421 75.5h1.2M431 65.5h1.2M419 109.5h1.2M429 89.5h1.2M416 102.5h1.2M412 103.5h1.2M415 92.5h1.2M428 92.5h1.2M423 76.5h1.2M421 84.5h1.2M417 78.5h1.2M422 86.5h1.2M413 76.5h1.2M423 101.5h1.2M411 94.5h1.2M406 84.5h1.2M417 65.5h1.2M428 93.5h1.2M416 96.5h1.2M417 84.5h1.2M410 70.5h1.2M418 90.5h1.2M413 98.5h1.2M409 62.5h1.2M409 92.5h1.2M412 63.5h1.2M430 86.5h1.2M420 106.5h1.2M419 86.5h1.2M433 91.5h1.2M413 81.5h1.2M411 85.5h1.2M424 114.5h1.2M411 101.5h1.2M420 81.5h1.2M425 80.5h1.2M411 85.5h1.2M417 112.5h1.2M429 88.5h1.2M412 99.5h1.2M413 81.5h1.2M418 69.5h1.2M417 101.5h1.2M412 84.5h1.2M427 75.5h1.2M413 77.5h1.2M419 77.5h1.2M414 78.5h1.2M414 66.5h1.2M410 100.5h1.2M424 90.5h1.2M416 97.5h1.2M426 81.5h1.2M411 89.5h1.2M415 87.5h1.2M422 99.5h1.2M420 95.5h1.2M414 89.5h1.2M416 77.5h1.2M408 70.5h1.2M417 75.5h1.2M400 77.5h1.2M418 78.5h1.2M425 70.5h1.2M426 105.5h1.2M424 88.5h1.2M413 60.5h1.2M420 72.5h1.2M414 69.5h1.2M418 88.5h1.2M419 98.5h1.2M395 73.5h1.2M425 93.5h1.2M421 82.5h1.2M425 99.5h1.2M413 102.5h1.2M423 89.5h1.2M422 94.5h1.2M403 85.5h1.2M406 80.5h1.2M417 71.5h1.2M414 89.5h1.2M418 84.5h1.2M413 80.5h1.2M428 84.5h1.2M405 83.5h1.2M408 72.5h1.2M411 79.5h1.2M410 99.5h1.2M414 82.5h1.2M419 102.5h1.2M408 71.5h1.2M419 69.5h1.2M427 87.5h1.2M426 94.5h1.2M430 77.5h1.2M426 93.5h1.2M419 96.5h1.2M431 98.5h1.2M422 84.5h1.2M430 84.5h1.2M415 65.5h1.2M404 85.5h1.2M411 88.5h1.2M421 102.5h1.2M420 70.5h1.2M416 75.5h1.2M423 73.5h1.2M411 96.5h1.2M410 54.5h1.2M423 72.5h1.2M421 110.5h1.2M419 93.5h1.2M426 69.5h1.2M425 84.5h1.2M414 95.5h1.2M420 92.5h1.2M407 82.5h1.2M417 75.5h1.2M422 95.5h1.2M407 85.5h1.2M429 95.5h1.2M432 90.5h1.2M421 79.5h1.2M426 102.5h1.2M427 79.5h1.2M417 90.5h1.2M424 77.5h1.2M420 82.5h1.2M408 82.5h1.2M411 77.5h1.2M415 88.5h1.2M427 101.5h1.2M421 108.5h1.2M426 102.5h1.2M415 83.5h1.2M411 103.5h1.2M432 90.5h1.2M430 107.5h1.2M419 70.5h1.2M419 103.5h1.2M425 78.5h1.2M412 99.5h1.2M416 79.5h1.2M410 96.5h1.2M421 82.5h1.2M417 62.5h1.2M414 73.5h1.2M413 82.5h1.2M408 85.5h1.2M410 58.5h1.2M425 71.5h1.2M415 76.5h1.2M426 82.5h1.2M413 88.5h1.2M416 75.5h1.2M413 67.5h1.2M417 89.5h1.2M423 81.5h1.2M406 96.5h1.2M422 79.5h1.2M423 93.5h1.2M417 74.5h1.2M419 88.5h1.2M417 86.5h1.2M423 90.5h1.2M417 74.5h1.2M412 84.5h1.2M418 75.5h1.2M424 83.5h1.2M421 93.5h1.2M422 121.5h1.2M419 85.5h1.2M416 94.5h1.2M415 86.5h1.2M407 99.5h1.2M417 91.5h1.2M426 98.5h1.2M416 89.5h1.2M415 114.5h1.2M426 102.5h1.2M417 64.5h1.2M419 89.5h1.2M421 86.5h1.2M420 58.5h1.2M417 75.5h1.2M412 79.5h1.2M428 76.5h1.2M419 87.5h1.2M411 63.5h1.2M420 94.5h1.2M427 94.5h1.2M409 89.5h1.2M426 81.5h1.2M417 85.5h1.2M430 79.5h1.2M424 99.5h1.2M418 91.5h1.2M429 109.5h1.2M426 81.5h1.2M417 103.5h1.2M419 78.5h1.2M414 83.5h1.2M423 72.5h1.2M410 91.5h1.2M417 84.5h1.2M405 93.5h1.2M424 103.5h1.2M403 84.5h1.2M412 90.5h1.2M421 96.5h1.2M416 84.5h1.2M414 78.5h1.2M412 89.5h1.2M416 91.5h1.2M408 94.5h1.2M421 95.5h1.2M422 77.5h1.2M424 90.5h1.2M419 100.5h1.2M425 79.5h1.2M421 89.5h1.2M424 78.5h1.2M421 87.5h1.2M420 106.5h1.2M413 87.5h1.2M400 73.5h1.2M423 89.5h1.2M418 88.5h1.2M417 99.5h1.2M404 69.5h1.2M422 74.5h1.2M412 84.5h1.2M416 66.5h1.2M414 99.5h1.2M418 61.5h1.2M417 75.5h1.2M422 67.5h1.2M418 77.5h1.2M422 95.5h1.2M427 92.5h1.2M423 96.5h1.2M418 92.5h1.2M424 61.5h1.2M418 89.5h1.2M418 63.5h1.2M415 79.5h1.2M413 80.5h1.2M398 79.5h1.2M423 91.5h1.2M410 75.5h1.2M425 106.5h1.2M430 92.5h1.2M411 99.5h1.2M425 94.5h1.2M419 96.5h1.2M421 85.5h1.2M413 109.5h1.2M417 72.5h1.2M420 91.5h1.2M427 85.5h1.2M432 82.5h1.2M420 89.5h1.2M415 76.5h1.2M422 96.5h1.2M418 95.5h1.2M418 86.5h1.2M420 94.5h1.2M420 73.5h1.2M420 63.5h1.2M414 78.5h1.2M417 82.5h1.2M429 115.5h1.2M428 82.5h1.2M422 98.5h1.2M421 95.5h1.2M419 110.5h1.2M425 87.5h1.2M416 93.5h1.2M419 83.5h1.2M414 75.5h1.2M413 73.5h1.2M417 76.5h1.2M420 102.5h1.2M415 89.5h1.2M418 83.5h1.2M419 85.5h1.2M414 78.5h1.2M414 85.5h1.2M417 85.5h1.2M423 93.5h1.2M426 96.5h1.2M417 65.5h1.2M417 88.5h1.2M420 102.5h1.2M429 73.5h1.2M424 82.5h1.2M412 87.5h1.2M419 98.5h1.2M415 92.5h1.2M416 82.5h1.2M408 91.5h1.2M420 98.5h1.2M410 90.5h1.2M417 107.5h1.2M428 90.5h1.2M423 73.5h1.2M412 76.5h1.2M411 84.5h1.2M412 83.5h1.2M407 93.5h1.2M412 89.5h1.2M418 106.5h1.2M412 95.5h1.2M425 103.5h1.2M417 76.5h1.2M414 80.5h1.2M430 93.5h1.2M423 86.5h1.2M419 93.5h1.2M430 88.5h1.2M426 78.5h1.2M416 106.5h1.2M422 99.5h1.2M413 66.5h1.2M408 78.5h1.2M430 85.5h1.2M429 93.5h1.2M410 84.5h1.2M420 69.5h1.2M409 95.5h1.2M425 83.5h1.2M419 100.5h1.2M417 89.5h1.2M428 97.5h1.2M419 95.5h1.2M418 96.5h1.2M423 79.5h1.2M417 98.5h1.2M424 88.5h1.2M417 70.5h1.2M423 80.5h1.2M422 81.5h1.2M424 91.5h1.2M412 93.5h1.2M429 72.5h1.2M418 94.5h1.2M430 84.5h1.2M413 73.5h1.2M417 95.5h1.2M416 76.5h1.2M424 71.5h1.2M416 94.5h1.2M422 96.5h1.2M407 77.5h1.2M416 98.5h1.2M421 97.5h1.2M417 79.5h1.2M408 109.5h1.2M421 85.5h1.2M412 88.5h1.2M428 57.5h1.2M418 93.5h1.2M432 78.5h1.2M423 91.5h1.2M419 65.5h1.2M416 99.5h1.2M419 103.5h1.2M423 108.5h1.2M402 50.5h1.2M425 92.5h1.2M411 89.5h1.2M413 49.5h1.2M399 77.5h1.2M421 84.5h1.2M425 102.5h1.2M419 75.5h1.2M421 88.5h1.2M416 85.5h1.2M420 90.5h1.2M426 81.5h1.2M416 96.5h1.2M423 97.5h1.2M421 69.5h1.2M418 99.5h1.2M419 76.5h1.2M419 82.5h1.2M416 99.5h1.2M418 87.5h1.2M416 92.5h1.2M430 95.5h1.2M426 93.5h1.2M404 79.5h1.2M419 74.5h1.2M426 94.5h1.2M424 95.5h1.2M413 90.5h1.2M420 83.5h1.2M411 96.5h1.2M411 85.5h1.2M415 69.5h1.2M420 89.5h1.2M429 92.5h1.2M421 95.5h1.2M424 75.5h1.2M409 77.5h1.2M411 90.5h1.2M414 80.5h1.2M430 85.5h1.2M410 97.5h1.2M408 90.5h1.2M420 107.5h1.2M426 89.5h1.2M409 106.5h1.2M418 98.5h1.2M412 116.5h1.2M428 86.5h1.2M423 85.5h1.2M422 101.5h1.2M417 80.5h1.2M416 80.5h1.2M419 89.5h1.2M414 90.5h1.2M411 69.5h1.2M411 89.5h1.2M418 82.5h1.2M413 86.5h1.2M424 88.5h1.2M404 84.5h1.2M423 99.5h1.2M422 92.5h1.2M426 84.5h1.2M417 87.5h1.2M410 98.5h1.2M413 95.5h1.2M427 101.5h1.2M416 84.5h1.2M416 88.5h1.2M417 110.5h1.2M418 86.5h1.2M419 106.5h1.2M409 96.5h1.2M414 81.5h1.2M423 69.5h1.2M429 94.5h1.2M417 78.5h1.2M414 78.5h1.2M425 66.5h1.2M418 100.5h1.2M411 87.5h1.2M417 87.5h1.2M423 91.5h1.2M429 89.5h1.2M415 87.5h1.2M422 92.5h1.2M416 83.5h1.2M423 55.5h1.2M421 95.5h1.2M420 91.5h1.2M412 87.5h1.2M418 105.5h1.2M414 70.5h1.2M391 52.5h1.2M426 104.5h1.2M419 91.5h1.2M415 67.5h1.2M415 81.5h1.2M419 94.5h1.2M418 72.5h1.2M410 93.5h1.2M422 111.5h1.2M421 103.5h1.2M418 86.5h1.2M409 90.5h1.2M416 75.5h1.2M410 88.5h1.2M420 82.5h1.2M426 74.5h1.2M422 70.5h1.2M418 109.5h1.2M415 87.5h1.2M413 74.5h1.2M420 81.5h1.2M416 104.5h1.2M417 106.5h1.2M401 79.5h1.2M413 89.5h1.2M414 97.5h1.2M414 82.5h1.2M425 72.5h1.2M408 75.5h1.2M409 86.5h1.2M421 77.5h1.2M410 71.5h1.2M417 83.5h1.2M420 97.5h1.2M419 94.5h1.2M413 84.5h1.2M427 109.5h1.2M427 77.5h1.2M411 85.5h1.2M415 70.5h1.2M425 95.5h1.2M417 85.5h1.2M410 66.5h1.2M414 76.5h1.2M426 108.5h1.2M412 95.5h1.2M420 88.5h1.2M422 97.5h1.2M412 67.5h1.2M421 76.5h1.2M421 70.5h1.2M424 76.5h1.2M424 82.5h1.2M409 92.5h1.2M425 98.5h1.2M423 98.5h1.2M428 118.5h1.2M412 80.5h1.2M424 86.5h1.2M421 92.5h1.2M410 76.5h1.2M426 83.5h1.2M413 91.5h1.2M410 76.5h1.2M421 92.5h1.2M416 101.5h1.2M419 73.5h1.2M414 59.5h1.2M420 87.5h1.2M422 74.5h1.2M418 88.5h1.2M423 81.5h1.2M424 90.5h1.2M414 100.5h1.2M425 96.5h1.2M422 82.5h1.2M418 72.5h1.2M423 56.5h1.2M426 60.5h1.2M422 77.5h1.2M409 87.5h1.2M420 78.5h1.2M417 79.5h1.2M414 67.5h1.2M418 66.5h1.2M414 65.5h1.2M430 93.5h1.2M418 62.5h1.2M419 94.5h1.2M422 75.5h1.2M424 92.5h1.2M426 88.5h1.2M423 95.5h1.2M419 100.5h1.2M418 76.5h1.2M403 74.5h1.2M408 80.5h1.2M424 76.5h1.2M417 93.5h1.2M430 84.5h1.2M430 85.5h1.2M410 90.5h1.2M420 80.5h1.2M422 98.5h1.2M411 63.5h1.2M421 88.5h1.2M417 91.5h1.2M416 76.5h1.2M415 77.5h1.2M419 96.5h1.2M423 81.5h1.2M411 62.5h1.2M420 69.5h1.2M415 97.5h1.2M421 75.5h1.2M422 101.5h1.2M415 101.5h1.2M419 83.5h1.2M414 92.5h1.2M412 75.5h1.2M425 80.5h1.2M405 77.5h1.2M423 92.5h1.2M421 70.5h1.2M414 83.5h1.2M425 86.5h1.2M425 91.5h1.2M407 60.5h1.2M419 64.5h1.2M420 74.5h1.2M413 82.5h1.2M422 87.5h1.2M423 87.5h1.2M416 109.5h1.2M406 93.5h1.2M421 92.5h1.2M413 79.5h1.2M408 94.5h1.2M416 93.5h1.2M403 93.5h1.2M416 84.5h1.2M429 92.5h1.2M401 103.5h1.2M420 75.5h1.2M409 59.5h1.2M416 95.5h1.2M413 94.5h1.2M422 82.5h1.2M418 80.5h1.2M416 118.5h1.2M409 79.5h1.2M414 70.5h1.2M425 79.5h1.2M411 91.5h1.2M420 78.5h1.2M420 80.5h1.2M405 88.5h1.2M425 80.5h1.2M418 86.5h1.2M433 84.5h1.2M428 72.5h1.2M417 86.5h1.2M416 71.5h1.2M413 96.5h1.2M408 74.5h1.2M423 82.5h1.2M414 63.5h1.2M415 79.5h1.2M415 70.5h1.2M424 103.5h1.2M424 83.5h1.2M419 91.5h1.2M415 64.5h1.2M417 70.5h1.2M419 83.5h1.2M403 69.5h1.2M412 98.5h1.2M421 80.5h1.2M419 87.5h1.2M427 88.5h1.2M427 83.5h1.2M432 94.5h1.2M412 77.5h1.2M423 89.5h1.2M418 99.5h1.2M425 87.5h1.2M419 86.5h1.2M424 81.5h1.2M413 85.5h1.2M420 93.5h1.2M414 82.5h1.2M414 65.5h1.2M415 87.5h1.2M411 83.5h1.2M426 90.5h1.2M420 85.5h1.2M427 103.5h1.2M410 70.5h1.2M404 73.5h1.2M415 92.5h1.2M416 73.5h1.2M424 89.5h1.2M425 84.5h1.2M424 61.5h1.2M429 93.5h1.2M425 101.5h1.2M419 87.5h1.2M411 68.5h1.2M424 94.5h1.2M414 72.5h1.2M413 83.5h1.2M423 90.5h1.2M419 75.5h1.2M422 65.5h1.2M413 83.5h1.2M426 84.5h1.2M420 75.5h1.2M416 75.5h1.2M414 93.5h1.2M411 84.5h1.2M408 79.5h1.2M427 78.5h1.2M409 87.5h1.2M422 86.5h1.2M416 83.5h1.2M413 68.5h1.2M415 80.5h1.2M417 77.5h1.2M424 85.5h1.2M423 98.5h1.2M419 96.5h1.2M410 92.5h1.2M406 86.5h1.2M430 81.5h1.2M412 89.5h1.2M407 79.5h1.2M425 81.5h1.2M407 75.5h1.2M423 84.5h1.2M424 84.5h1.2M422 106.5h1.2M425 91.5h1.2M408 80.5h1.2M411 94.5h1.2M416 79.5h1.2M419 96.5h1.2M418 94.5h1.2M425 118.5h1.2M412 72.5h1.2M404 84.5h1.2M421 83.5h1.2M417 88.5h1.2M424 93.5h1.2M431 73.5h1.2M418 76.5h1.2M422 88.5h1.2M413 96.5h1.2M423 72.5h1.2M419 67.5h1.2M421 98.5h1.2M425 94.5h1.2M412 97.5h1.2M421 73.5h1.2M421 82.5h1.2M429 87.5h1.2M407 90.5h1.2M417 83.5h1.2M433 84.5h1.2M417 96.5h1.2M415 80.5h1.2M429 78.5h1.2M364 66.5h1.2M357 68.5h1.2M333 55.5h1.2M313 37.5h1.2M364 70.5h1.2M333 54.5h1.2M373 62.5h1.2M335 65.5h1.2M342 46.5h1.2M387 78.5h1.2M318 57.5h1.2M331 59.5h1.2M368 50.5h1.2M345 65.5h1.2M384 69.5h1.2M319 49.5h1.2M310 64.5h1.2M378 50.5h1.2M322 40.5h1.2M333 52.5h1.2M325 64.5h1.2M346 63.5h1.2M387 70.5h1.2M350 47.5h1.2M371 52.5h1.2M322 57.5h1.2M355 64.5h1.2M327 55.5h1.2M327 44.5h1.2M335 36.5h1.2M342 71.5h1.2M370 70.5h1.2M317 47.5h1.2M331 75.5h1.2M392 55.5h1.2M339 62.5h1.2M310 73.5h1.2M384 50.5h1.2M341 34.5h1.2M370 60.5h1.2M390 62.5h1.2M386 67.5h1.2M389 64.5h1.2M360 58.5h1.2M392 71.5h1.2M328 43.5h1.2M336 61.5h1.2M365 63.5h1.2M363 55.5h1.2M379 79.5h1.2M319 62.5h1.2M340 74.5h1.2M362 68.5h1.2M316 54.5h1.2M352 81.5h1.2M384 71.5h1.2M310 56.5h1.2M381 55.5h1.2M371 43.5h1.2M345 54.5h1.2M327 53.5h1.2M376 59.5h1.2M339 51.5h1.2M363 64.5h1.2M319 55.5h1.2M374 36.5h1.2M388 50.5h1.2M388 44.5h1.2M393 40.5h1.2M313 53.5h1.2M379 68.5h1.2M329 42.5h1.2M317 30.5h1.2M377 54.5h1.2M386 95.5h1.2M314 49.5h1.2M326 60.5h1.2M349 51.5h1.2M383 67.5h1.2M348 75.5h1.2M312 54.5h1.2M372 72.5h1.2M391 42.5h1.2M322 59.5h1.2M380 40.5h1.2M391 59.5h1.2M344 48.5h1.2M381 59.5h1.2M363 42.5h1.2M393 59.5h1.2M366 58.5h1.2M333 49.5h1.2M370 46.5h1.2M337 41.5h1.2M339 51.5h1.2M315 55.5h1.2M324 58.5h1.2M366 73.5h1.2M353 52.5h1.2M343 60.5h1.2M361 67.5h1.2M336 63.5h1.2M337 61.5h1.2M361 57.5h1.2M373 81.5h1.2M372 55.5h1.2M356 51.5h1.2M393 64.5h1.2M394 78.5h1.2M389 75.5h1.2M334 57.5h1.2M373 67.5h1.2M317 63.5h1.2M394 57.5h1.2M358 65.5h1.2M314 64.5h1.2M319 58.5h1.2M364 79.5h1.2M367 51.5h1.2M340 75.5h1.2M347 84.5h1.2M378 84.5h1.2M376 60.5h1.2M374 54.5h1.2M341 35.5h1.2M338 56.5h1.2M365 88.5h1.2M316 36.5h1.2M367 36.5h1.2M368 67.5h1.2M375 64.5h1.2M329 33.5h1.2M338 56.5h1.2M329 61.5h1.2M346 37.5h1.2M363 69.5h1.2M348 39.5h1.2M385 71.5h1.2M359 59.5h1.2M377 47.5h1.2M392 35.5h1.2M377 52.5h1.2M327 55.5h1.2M338 55.5h1.2M312 49.5h1.2M343 54.5h1.2M347 68.5h1.2M336 44.5h1.2M341 54.5h1.2M326 62.5h1.2M379 56.5h1.2M342 68.5h1.2M310 77.5h1.2M347 52.5h1.2M340 59.5h1.2M324 18.5h1.2M369 52.5h1.2M344 65.5h1.2M376 42.5h1.2M361 74.5h1.2M391 32.5h1.2M337 74.5h1.2M311 50.5h1.2M324 43.5h1.2M374 50.5h1.2M325 53.5h1.2M360 43.5h1.2M318 38.5h1.2M382 49.5h1.2M342 69.5h1.2M333 62.5h1.2M385 74.5h1.2M369 48.5h1.2M360 52.5h1.2M387 52.5h1.2M378 58.5h1.2M387 79.5h1.2M325 65.5h1.2M371 58.5h1.2M334 74.5h1.2M334 46.5h1.2M345 39.5h1.2M381 58.5h1.2M331 58.5h1.2M363 68.5h1.2M321 52.5h1.2M316 55.5h1.2M310 61.5h1.2M350 65.5h1.2M344 69.5h1.2M371 58.5h1.2M346 60.5h1.2M352 25.5h1.2M357 72.5h1.2M321 36.5h1.2M341 56.5h1.2M381 89.5h1.2M394 52.5h1.2M350 36.5h1.2M335 77.5h1.2M382 49.5h1.2M356 54.5h1.2M312 54.5h1.2M322 66.5h1.2M364 66.5h1.2M319 55.5h1.2M354 71.5h1.2M392 44.5h1.2M353 65.5h1.2M348 48.5h1.2M378 65.5h1.2M354 47.5h1.2M381 50.5h1.2M309 75.5h1.2M381 41.5h1.2M322 41.5h1.2M327 64.5h1.2M357 53.5h1.2M367 51.5h1.2M322 54.5h1.2M377 84.5h1.2M350 43.5h1.2M373 53.5h1.2M339 58.5h1.2M339 44.5h1.2M354 56.5h1.2M365 62.5h1.2M375 44.5h1.2M337 71.5h1.2M362 41.5h1.2M330 54.5h1.2M369 60.5h1.2M343 97.5h1.2M389 33.5h1.2M372 60.5h1.2M315 89.5h1.2M364 48.5h1.2M341 70.5h1.2M336 59.5h1.2M326 37.5h1.2M369 61.5h1.2M382 44.5h1.2M347 57.5h1.2M351 37.5h1.2M337 66.5h1.2M379 25.5h1.2M394 54.5h1.2M347 73.5h1.2M347 63.5h1.2M325 51.5h1.2M333 53.5h1.2M342 50.5h1.2M344 91.5h1.2M323 55.5h1.2M339 56.5h1.2M313 46.5h1.2M333 50.5h1.2M365 64.5h1.2M387 48.5h1.2M327 46.5h1.2M369 49.5h1.2M328 51.5h1.2M391 58.5h1.2M330 50.5h1.2M312 54.5h1.2M391 46.5h1.2M338 72.5h1.2M326 57.5h1.2M348 52.5h1.2M381 60.5h1.2M342 55.5h1.2M348 36.5h1.2M365 54.5h1.2M310 77.5h1.2M387 63.5h1.2M370 71.5h1.2M359 47.5h1.2M339 37.5h1.2M392 47.5h1.2M314 74.5h1.2M360 46.5h1.2M367 70.5h1.2M321 53.5h1.2M381 53.5h1.2M346 61.5h1.2M337 57.5h1.2M370 52.5h1.2M343 59.5h1.2M322 47.5h1.2M345 55.5h1.2M311 65.5h1.2M335 42.5h1.2M359 53.5h1.2M315 41.5h1.2M346 66.5h1.2M350 64.5h1.2M311 68.5h1.2M326 69.5h1.2M312 69.5h1.2M353 65.5h1.2M364 46.5h1.2M357 44.5h1.2M383 86.5h1.2M312 60.5h1.2M360 64.5h1.2M336 40.5h1.2M320 70.5h1.2M384 71.5h1.2M335 36.5h1.2M382 49.5h1.2M386 50.5h1.2M330 48.5h1.2M384 74.5h1.2M387 84.5h1.2M385 70.5h1.2M363 53.5h1.2M354 24.5h1.2M382 50.5h1.2M382 72.5h1.2M385 46.5h1.2M353 71.5h1.2M317 49.5h1.2M338 71.5h1.2M334 64.5h1.2M362 51.5h1.2M331 46.5h1.2M356 54.5h1.2M335 71.5h1.2M348 56.5h1.2M364 47.5h1.2M379 99.5h1.2M312 35.5h1.2M347 53.5h1.2M336 63.5h1.2M363 42.5h1.2M371 56.5h1.2M370 50.5h1.2M322 37.5h1.2M321 62.5h1.2M383 41.5h1.2M335 46.5h1.2M369 72.5h1.2M309 41.5h1.2M360 64.5h1.2M328 71.5h1.2M366 69.5h1.2M315 62.5h1.2M385 53.5h1.2M368 38.5h1.2M362 58.5h1.2M349 62.5h1.2M377 49.5h1.2M346 43.5h1.2M364 67.5h1.2M342 42.5h1.2M309 62.5h1.2M348 50.5h1.2M378 34.5h1.2M364 77.5h1.2M316 64.5h1.2M311 63.5h1.2M323 37.5h1.2M362 54.5h1.2M335 59.5h1.2M329 46.5h1.2M384 77.5h1.2M309 30.5h1.2M379 65.5h1.2M338 31.5h1.2M378 35.5h1.2M333 39.5h1.2M353 63.5h1.2M320 46.5h1.2M332 47.5h1.2M364 44.5h1.2M367 36.5h1.2M323 44.5h1.2M364 43.5h1.2M393 51.5h1.2M361 51.5h1.2M332 24.5h1.2M367 47.5h1.2M359 71.5h1.2M365 49.5h1.2M381 54.5h1.2M389 46.5h1.2M321 46.5h1.2M329 54.5h1.2M320 38.5h1.2M395 53.5h1.2M394 33.5h1.2M374 59.5h1.2M324 104.5h1.2M313 102.5h1.2M384 27.5h1.2M334 45.5h1.2M331 93.5h1.2M342 69.5h1.2M327 37.5h1.2M381 67.5h1.2M330 54.5h1.2M312 57.5h1.2M375 34.5h1.2M366 75.5h1.2M323 94.5h1.2M338 57.5h1.2M321 51.5h1.2M380 100.5h1.2M381 77.5h1.2M312 106.5h1.2M325 95.5h1.2M341 43.5h1.2M358 83.5h1.2M374 38.5h1.2M380 39.5h1.2M383 78.5h1.2M354 27.5h1.2M367 44.5h1.2M380 105.5h1.2M367 49.5h1.2M345 85.5h1.2M374 84.5h1.2M358 70.5h1.2M331 95.5h1.2M310 42.5h1.2M369 37.5h1.2M310 91.5h1.2M371 54.5h1.2M370 42.5h1.2M323 68.5h1.2M376 82.5h1.2M353 69.5h1.2M447 49.5h1.2M438 92.5h1.2M446 76.5h1.2M449 63.5h1.2M442 44.5h1.2M444 73.5h1.2M442 59.5h1.2M437 73.5h1.2M348 137.5h1.2M328 140.5h1.2M340 121.5h1.2M361 118.5h1.2M338 120.5h1.2M341 147.5h1.2M373 122.5h1.2M339 139.5h1.2M355 119.5h1.2M378 146.5h1.2M330 142.5h1.2M347 145.5h1.2M367 149.5h1.2M366 138.5h1.2M425 132.5h1.2M410 116.5h1.2M438 135.5h1.2M423 150.5h1.2M408 116.5h1.2M417 122.5h1.2M426 138.5h1.2M420 118.5h1.2M425 109.5h1.2M437 119.5h1.2M426 117.5h1.2M434 127.5h1.2M424 142.5h1.2M413 114.5h1.2M430 126.5h1.2M413 110.5h1.2M426 133.5h1.2M424 137.5h1.2M412 116.5h1.2M413 120.5h1.2M417 122.5h1.2M429 136.5h1.2M419 123.5h1.2M434 164.5h1.2M425 113.5h1.2M413 120.5h1.2M414 111.5h1.2M419 114.5h1.2M414 117.5h1.2M418 163.5h1.2M425 118.5h1.2M421 110.5h1.2M426 119.5h1.2M413 123.5h1.2M412 116.5h1.2M407 131.5h1.2M404 127.5h1.2M415 124.5h1.2M419 116.5h1.2M417 134.5h1.2M419 133.5h1.2M410 111.5h1.2M417 120.5h1.2M415 165.5h1.2M411 122.5h1.2M430 115.5h1.2M418 114.5h1.2M429 125.5h1.2M410 132.5h1.2M434 124.5h1.2M437 126.5h1.2M412 110.5h1.2M419 138.5h1.2M418 140.5h1.2M423 128.5h1.2M408 119.5h1.2M423 118.5h1.2M425 116.5h1.2M414 118.5h1.2M401 116.5h1.2M413 126.5h1.2M416 130.5h1.2M425 124.5h1.2M414 110.5h1.2M424 160.5h1.2M422 110.5h1.2M425 119.5h1.2M427 116.5h1.2M423 109.5h1.2M405 123.5h1.2M420 120.5h1.2M425 123.5h1.2M419 151.5h1.2M431 109.5h1.2M415 147.5h1.2M424 160.5h1.2M409 117.5h1.2M419 111.5h1.2M414 109.5h1.2M411 117.5h1.2" stroke="#000" stroke-width="1.2" fill="none"/>
</g>
<text x="0" y="0" font-size="25.3" transform="translate(265.3 18.7) rotate(0.06)" font-weight="bold" stroke="#000" stroke-width="0.22" fill="#000" >B</text>
<text x="0" y="0" font-size="10.3" transform="translate(310 18.9) rotate(0.06)" font-weight="bold" textLength="45" lengthAdjust="spacingAndGlyphs" stroke="#000" stroke-width="0.22" fill="#000" >16.1±2.3%</text>
<text x="0" y="0" font-size="10.3" transform="translate(461 19.5) rotate(0.06)" font-weight="bold" textLength="45" lengthAdjust="spacingAndGlyphs" stroke="#000" stroke-width="0.22" fill="#000" >76.6±3.4%</text>
<text x="0" y="0" font-size="10.3" transform="translate(310 123.2) rotate(0.06)" font-weight="bold" textLength="40" lengthAdjust="spacingAndGlyphs" stroke="#000" stroke-width="0.22" fill="#000" >2.3±1.7%</text>
<text x="0" y="0" font-size="10.3" transform="translate(470.5 121.9) rotate(0.06)" font-weight="bold" textLength="39.5" lengthAdjust="spacingAndGlyphs" stroke="#000" stroke-width="0.22" fill="#000" >5.2±1.2%</text>
<text x="0" y="0" font-size="10.8" transform="translate(425.8 162) rotate(0.06)" font-weight="bold" textLength="11.5" lengthAdjust="spacingAndGlyphs" stroke="#000" stroke-width="0.22" fill="#000" >R1</text>
<text x="0" y="0" font-size="10" transform="translate(391.3 198.4) rotate(0.06)" font-weight="bold" textLength="51.2" lengthAdjust="spacingAndGlyphs" stroke="#000" stroke-width="0.22" fill="#000" >CD34-FITC</text>
<text x="0" y="0" font-size="10.2" transform="translate(285.8 97.7) rotate(-89.94)" font-weight="bold" textLength="39.3" lengthAdjust="spacingAndGlyphs" stroke="#000" stroke-width="0.22" fill="#000" >CD38-PE</text>
<text x="0" y="0" font-size="10" transform="translate(447.8 67.5) rotate(-89.94)" font-weight="bold" textLength="30" lengthAdjust="spacingAndGlyphs" stroke="#000" stroke-width="0.22" fill="#000" >IgG-PE</text>
<text x="0" y="0" font-size="10.1" transform="translate(461 89) rotate(0.06)" font-weight="bold" textLength="39" lengthAdjust="spacingAndGlyphs" stroke="#000" stroke-width="0.22" fill="#000" >IgG-FITC</text>
<g transform="translate(299.7 16.2) rotate(-89.94) scale(0.76 1)" font-size="11.2" fill="#000" stroke="#000" stroke-width="0.3"><text x="0" y="0">10</text><text x="14.65" y="-3.70" font-size="10.64">4</text></g>
<g transform="translate(299.7 55.6) rotate(-89.94) scale(0.76 1)" font-size="11.2" fill="#000" stroke="#000" stroke-width="0.3"><text x="0" y="0">10</text><text x="14.65" y="-3.70" font-size="10.64">3</text></g>
<g transform="translate(299.7 95.2) rotate(-89.94) scale(0.76 1)" font-size="11.2" fill="#000" stroke="#000" stroke-width="0.3"><text x="0" y="0">10</text><text x="14.65" y="-3.70" font-size="10.64">2</text></g>
<g transform="translate(299.7 134.3) rotate(-89.94) scale(0.76 1)" font-size="11.2" fill="#000" stroke="#000" stroke-width="0.3"><text x="0" y="0">10</text><text x="14.65" y="-3.70" font-size="10.64">1</text></g>
<g transform="translate(299.7 174.2) rotate(-89.94) scale(0.76 1)" font-size="11.2" fill="#000" stroke="#000" stroke-width="0.3"><text x="0" y="0">10</text><text x="14.65" y="-3.70" font-size="10.64">0</text></g>
<g transform="translate(301.3 184) rotate(0.06) scale(0.76 1)" font-size="11.2" fill="#000" stroke="#000" stroke-width="0.3"><text x="0" y="0">10</text><text x="11.55" y="-6.38" font-size="10.64">0</text></g>
<g transform="translate(352.8 184) rotate(0.06) scale(0.76 1)" font-size="11.2" fill="#000" stroke="#000" stroke-width="0.3"><text x="0" y="0">10</text><text x="11.55" y="-6.38" font-size="10.64">1</text></g>
<g transform="translate(404.8 184) rotate(0.06) scale(0.76 1)" font-size="11.2" fill="#000" stroke="#000" stroke-width="0.3"><text x="0" y="0">10</text><text x="11.55" y="-6.38" font-size="10.64">2</text></g>
<g transform="translate(455.8 184) rotate(0.06) scale(0.76 1)" font-size="11.2" fill="#000" stroke="#000" stroke-width="0.3"><text x="0" y="0">10</text><text x="11.55" y="-6.38" font-size="10.64">3</text></g>
<g transform="translate(506.5 184) rotate(0.06) scale(0.76 1)" font-size="11.2" fill="#000" stroke="#000" stroke-width="0.3"><text x="0" y="0">10</text><text x="11.55" y="-6.38" font-size="10.64">4</text></g>
<text x="0" y="0" font-size="25.2" transform="translate(0.6 240.9) rotate(0.06)" font-weight="bold" stroke="#000" stroke-width="0.22" fill="#000" >C</text>
<text x="0" y="0" font-size="10" transform="translate(37.2 231.7) rotate(0.06)" font-weight="bold" stroke="#000" stroke-width="0.22" fill="#000" >i)</text>
<path d="M76.4 243.7V403.2H216" stroke="#000" stroke-width="1.15" fill="none"/>
<text x="0" y="0" font-size="9.1" transform="translate(67.5 406.0) rotate(0.06)" font-weight="bold" text-anchor="end" stroke="#000" stroke-width="0.22" fill="#000" >0</text>
<text x="0" y="0" font-size="9.1" transform="translate(67.5 390.8) rotate(0.06)" font-weight="bold" text-anchor="end" stroke="#000" stroke-width="0.22" fill="#000" >10</text>
<text x="0" y="0" font-size="9.1" transform="translate(67.5 374.9) rotate(0.06)" font-weight="bold" text-anchor="end" stroke="#000" stroke-width="0.22" fill="#000" >20</text>
<text x="0" y="0" font-size="9.1" transform="translate(67.5 358.9) rotate(0.06)" font-weight="bold" text-anchor="end" stroke="#000" stroke-width="0.22" fill="#000" >30</text>
<text x="0" y="0" font-size="9.1" transform="translate(67.5 343.0) rotate(0.06)" font-weight="bold" text-anchor="end" stroke="#000" stroke-width="0.22" fill="#000" >40</text>
<text x="0" y="0" font-size="9.1" transform="translate(67.5 327.0) rotate(0.06)" font-weight="bold" text-anchor="end" stroke="#000" stroke-width="0.22" fill="#000" >50</text>
<text x="0" y="0" font-size="9.1" transform="translate(67.5 311.1) rotate(0.06)" font-weight="bold" text-anchor="end" stroke="#000" stroke-width="0.22" fill="#000" >60</text>
<text x="0" y="0" font-size="9.1" transform="translate(67.5 295.2) rotate(0.06)" font-weight="bold" text-anchor="end" stroke="#000" stroke-width="0.22" fill="#000" >70</text>
<text x="0" y="0" font-size="9.1" transform="translate(67.5 279.2) rotate(0.06)" font-weight="bold" text-anchor="end" stroke="#000" stroke-width="0.22" fill="#000" >80</text>
<text x="0" y="0" font-size="9.1" transform="translate(67.5 263.3) rotate(0.06)" font-weight="bold" text-anchor="end" stroke="#000" stroke-width="0.22" fill="#000" >90</text>
<text x="0" y="0" font-size="9.1" transform="translate(67.5 246.5) rotate(0.06)" font-weight="bold" text-anchor="end" stroke="#000" stroke-width="0.22" fill="#000" >100</text>
<path d="M71.0 403.2H76.4M71.0 388.0H76.4M71.0 372.1H76.4M71.0 356.1H76.4M71.0 340.2H76.4M71.0 324.2H76.4M71.0 308.3H76.4M71.0 292.4H76.4M71.0 276.4H76.4M71.0 260.5H76.4" stroke="#000" stroke-width="1.1" fill="none"/>
<rect x="96.3" y="361.3" width="56.7" height="41.9" fill="#fff" stroke="#000" stroke-width="1.25"/>
<rect x="153" y="275" width="58" height="128.2" fill="url(#gr)" stroke="#000" stroke-width="1.4"/>
<path d="M173.5 280V402" stroke="#b6b6b6" stroke-width="0.9" opacity="0.9"/><path d="M201 277V402" stroke="#b4b4b4" stroke-width="0.8" stroke-dasharray="3 2" opacity="0.8"/>
<path d="M125 357V365.5M122.7 357h4.6M122.7 365.5h4.6" stroke="#000" stroke-width="1.15" fill="none"/>
<path d="M181.5 257.5V293M178.9 257.5h5.2M178.9 293h5.2" stroke="#000" stroke-width="1.2" fill="none"/>
<polygon points="176.40,250.45 176.99,251.99 178.63,252.07 177.35,253.11 177.78,254.70 176.40,253.80 175.02,254.70 175.45,253.11 174.17,252.07 175.81,251.99" fill="#000" stroke="#000" stroke-width="0.3"/>
<polygon points="181.50,250.45 182.09,251.99 183.73,252.07 182.45,253.11 182.88,254.70 181.50,253.80 180.12,254.70 180.55,253.11 179.27,252.07 180.91,251.99" fill="#000" stroke="#000" stroke-width="0.3"/>
<polygon points="186.50,250.45 187.09,251.99 188.73,252.07 187.45,253.11 187.88,254.70 186.50,253.80 185.12,254.70 185.55,253.11 184.27,252.07 185.91,251.99" fill="#000" stroke="#000" stroke-width="0.3"/>
<text x="0" y="0" font-size="10" transform="translate(107 418) rotate(0.06)" font-weight="bold" textLength="30" lengthAdjust="spacingAndGlyphs" stroke="#000" stroke-width="0.22" fill="#000" >G-CSF</text>
<text x="0" y="0" font-size="10" transform="translate(155 418) rotate(0.06)" font-weight="bold" textLength="57" lengthAdjust="spacingAndGlyphs" stroke="#000" stroke-width="0.22" fill="#000" >G-CSF+SCF</text>
<text x="0" y="0" font-size="8.8" transform="translate(71.4 427) rotate(0.06)" textLength="74.5" lengthAdjust="spacingAndGlyphs" fill="#000" stroke="#000" stroke-width="0.15">P.E. = 1 in 41 cells</text>
<text x="0" y="0" font-size="8.8" transform="translate(155 427) rotate(0.06)" textLength="75" lengthAdjust="spacingAndGlyphs" fill="#000" stroke="#000" stroke-width="0.15">P.E. = 1 in 20 cells</text>
<text x="0" y="0" font-size="9.4" transform="translate(43.5 406.2) rotate(-89.94)" font-weight="bold" textLength="166" lengthAdjust="spacingAndGlyphs" stroke="#000" stroke-width="0.22" fill="#000" >Total CFU/1000 CD34+CD38<tspan font-size="7" dy="-3.2">-</tspan><tspan dy="3.2">Lin</tspan><tspan font-size="7" dy="-3.2">-</tspan><tspan dy="3.2"> Cells</tspan></text>
<text x="0" y="0" font-size="10" transform="translate(262 234.3) rotate(0.06)" font-weight="bold" textLength="7.8" lengthAdjust="spacingAndGlyphs" stroke="#000" stroke-width="0.22" fill="#000" >ii)</text>
<path d="M300 244.8V403.3H516" stroke="#000" stroke-width="1.15" fill="none"/>
<text x="0" y="0" font-size="9.3" transform="translate(290.5 406.5) rotate(0.06)" font-weight="bold" text-anchor="end" stroke="#000" stroke-width="0.22" fill="#000" >0</text>
<text x="0" y="0" font-size="9.3" transform="translate(290.5 391.6) rotate(0.06)" font-weight="bold" text-anchor="end" stroke="#000" stroke-width="0.22" fill="#000" >5</text>
<text x="0" y="0" font-size="9.3" transform="translate(290.5 375.6) rotate(0.06)" font-weight="bold" text-anchor="end" stroke="#000" stroke-width="0.22" fill="#000" >10</text>
<text x="0" y="0" font-size="9.3" transform="translate(290.5 359.7) rotate(0.06)" font-weight="bold" text-anchor="end" stroke="#000" stroke-width="0.22" fill="#000" >15</text>
<text x="0" y="0" font-size="9.3" transform="translate(290.5 343.7) rotate(0.06)" font-weight="bold" text-anchor="end" stroke="#000" stroke-width="0.22" fill="#000" >20</text>
<text x="0" y="0" font-size="9.3" transform="translate(290.5 327.8) rotate(0.06)" font-weight="bold" text-anchor="end" stroke="#000" stroke-width="0.22" fill="#000" >25</text>
<text x="0" y="0" font-size="9.3" transform="translate(290.5 311.8) rotate(0.06)" font-weight="bold" text-anchor="end" stroke="#000" stroke-width="0.22" fill="#000" >30</text>
<text x="0" y="0" font-size="9.3" transform="translate(290.5 295.9) rotate(0.06)" font-weight="bold" text-anchor="end" stroke="#000" stroke-width="0.22" fill="#000" >35</text>
<text x="0" y="0" font-size="9.3" transform="translate(290.5 279.9) rotate(0.06)" font-weight="bold" text-anchor="end" stroke="#000" stroke-width="0.22" fill="#000" >40</text>
<text x="0" y="0" font-size="9.3" transform="translate(290.5 264.0) rotate(0.06)" font-weight="bold" text-anchor="end" stroke="#000" stroke-width="0.22" fill="#000" >45</text>
<text x="0" y="0" font-size="9.3" transform="translate(290.5 248.0) rotate(0.06)" font-weight="bold" text-anchor="end" stroke="#000" stroke-width="0.22" fill="#000" >50</text>
<path d="M294.6 403.3H300M294.6 388.4H300M294.6 372.4H300M294.6 356.5H300M294.6 340.5H300M294.6 324.6H300M294.6 308.6H300M294.6 292.7H300M294.6 276.7H300M294.6 260.8H300M294.6 244.8H300" stroke="#000" stroke-width="1.1" fill="none"/>
<rect x="311.5" y="311.5" width="18.4" height="91.8" fill="#fff" stroke="#000" stroke-width="1.25"/>
<rect x="329.9" y="255.1" width="18.6" height="148.2" fill="url(#gr)" stroke="#000" stroke-width="1.25"/>
<rect x="363.7" y="348.4" width="18.9" height="54.9" fill="#fff" stroke="#000" stroke-width="1.25"/>
<rect x="382.6" y="328.1" width="19.1" height="75.2" fill="url(#gr)" stroke="#000" stroke-width="1.25"/>
<rect x="421.3" y="260.2" width="19.0" height="143.1" fill="#fff" stroke="#000" stroke-width="1.25"/>
<rect x="440.3" y="321.5" width="18.2" height="81.8" fill="url(#gr)" stroke="#000" stroke-width="1.25"/>
<rect x="474.2" y="393.9" width="18.9" height="9.4" fill="#fff" stroke="#000" stroke-width="1.25"/>
<rect x="493.1" y="391.2" width="18.7" height="12.1" fill="url(#gr)" stroke="#000" stroke-width="1.25"/>
<path d="M320.5 294.3V328.1M317.9 294.3h5.2M317.9 328.1h5.2" stroke="#000" stroke-width="1.15" fill="none"/>
<path d="M338.5 246.8V263.2M335.9 246.8h5.2M335.9 263.2h5.2" stroke="#000" stroke-width="1.15" fill="none"/>
<path d="M373 328.7V363.1M370.4 328.7h5.2M370.4 363.1h5.2" stroke="#000" stroke-width="1.15" fill="none"/>
<path d="M391.5 319.1V335.5M388.9 319.1h5.2M388.9 335.5h5.2" stroke="#000" stroke-width="1.15" fill="none"/>
<path d="M431.5 247.7V273.5M428.9 247.7h5.2M428.9 273.5h5.2" stroke="#000" stroke-width="1.15" fill="none"/>
<path d="M449.4 314.2V331.3M446.79999999999995 314.2h5.2M446.79999999999995 331.3h5.2" stroke="#000" stroke-width="1.15" fill="none"/>
<path d="M483.5 390.9V396.5M480.9 390.9h5.2M480.9 396.5h5.2" stroke="#000" stroke-width="1.15" fill="none"/>
<path d="M502 388.6V393.9M499.4 388.6h5.2M499.4 393.9h5.2" stroke="#000" stroke-width="1.15" fill="none"/>
<polygon points="338.60,239.00 339.19,240.49 340.79,240.59 339.55,241.61 339.95,243.16 338.60,242.30 337.25,243.16 337.65,241.61 336.41,240.59 338.01,240.49" fill="#000" stroke="#000" stroke-width="0.3"/>
<polygon points="447.40,305.20 447.99,306.69 449.59,306.79 448.35,307.81 448.75,309.36 447.40,308.50 446.05,309.36 446.45,307.81 445.21,306.79 446.81,306.69" fill="#000" stroke="#000" stroke-width="0.3"/>
<polygon points="452.00,305.20 452.59,306.69 454.19,306.79 452.95,307.81 453.35,309.36 452.00,308.50 450.65,309.36 451.05,307.81 449.81,306.79 451.41,306.69" fill="#000" stroke="#000" stroke-width="0.3"/>
<text x="0" y="0" font-size="9.3" transform="translate(317.5 416) rotate(0.06)" font-weight="bold" textLength="27" lengthAdjust="spacingAndGlyphs" stroke="#000" stroke-width="0.22" fill="#000" >BFU-E</text>
<text x="0" y="0" font-size="9.3" transform="translate(368.6 415.9) rotate(0.06)" font-weight="bold" textLength="29.5" lengthAdjust="spacingAndGlyphs" stroke="#000" stroke-width="0.22" fill="#000" >CFU-M</text>
<text x="0" y="0" font-size="9.3" transform="translate(422.6 415.9) rotate(0.06)" font-weight="bold" textLength="28.5" lengthAdjust="spacingAndGlyphs" stroke="#000" stroke-width="0.22" fill="#000" >CFU-G</text>
<text x="0" y="0" font-size="9.3" transform="translate(475.8 415.9) rotate(0.06)" font-weight="bold" textLength="36" lengthAdjust="spacingAndGlyphs" stroke="#000" stroke-width="0.22" fill="#000" >CFU-GM</text>
<text x="0" y="0" font-size="9.2" transform="translate(268.6 393.2) rotate(-89.94)" font-weight="bold" textLength="137.3" lengthAdjust="spacingAndGlyphs" stroke="#000" stroke-width="0.22" fill="#000" >Proportions of CFU (% of total )</text>
<defs><pattern id="gr" width="14" height="14" patternUnits="userSpaceOnUse"><rect width="14" height="14" fill="#989898"/><rect x="0" y="0" width="1.05" height="1.05" fill="#aaaaaa"/><rect x="0" y="1" width="1.05" height="1.05" fill="#808080"/><rect x="0" y="2" width="1.05" height="1.05" fill="#9b9b9b"/><rect x="0" y="3" width="1.05" height="1.05" fill="#929292"/><rect x="0" y="4" width="1.05" height="1.05" fill="#939393"/><rect x="0" y="5" width="1.05" height="1.05" fill="#969696"/><rect x="0" y="6" width="1.05" height="1.05" fill="#858585"/><rect x="0" y="7" width="1.05" height="1.05" fill="#959595"/><rect x="0" y="8" width="1.05" height="1.05" fill="#909090"/><rect x="0" y="9" width="1.05" height="1.05" fill="#b5b5b5"/><rect x="0" y="10" width="1.05" height="1.05" fill="#9a9a9a"/><rect x="0" y="11" width="1.05" height="1.05" fill="#949494"/><rect x="0" y="12" width="1.05" height="1.05" fill="#959595"/><rect x="0" y="13" width="1.05" height="1.05" fill="#919191"/><rect x="1" y="0" width="1.05" height="1.05" fill="#8e8e8e"/><rect x="1" y="1" width="1.05" height="1.05" fill="#949494"/><rect x="1" y="2" width="1.05" height="1.05" fill="#9c9c9c"/><rect x="1" y="3" width="1.05" height="1.05" fill="#959595"/><rect x="1" y="4" width="1.05" height="1.05" fill="#a0a0a0"/><rect x="1" y="5" width="1.05" height="1.05" fill="#969696"/><rect x="1" y="6" width="1.05" height="1.05" fill="#989898"/><rect x="1" y="7" width="1.05" height="1.05" fill="#a5a5a5"/><rect x="1" y="8" width="1.05" height="1.05" fill="#9c9c9c"/><rect x="1" y="9" width="1.05" height="1.05" fill="#939393"/><rect x="1" y="10" width="1.05" height="1.05" fill="#969696"/><rect x="1" y="11" width="1.05" height="1.05" fill="#9c9c9c"/><rect x="1" y="12" width="1.05" height="1.05" fill="#a9a9a9"/><rect x="1" y="13" width="1.05" height="1.05" fill="#959595"/><rect x="2" y="0" width="1.05" height="1.05" fill="#959595"/><rect x="2" y="1" width="1.05" height="1.05" fill="#a1a1a1"/><rect x="2" y="2" width="1.05" height="1.05" fill="#909090"/><rect x="2" y="3" width="1.05" height="1.05" fill="#959595"/><rect x="2" y="4" width="1.05" height="1.05" fill="#9f9f9f"/><rect x="2" y="5" width="1.05" height="1.05" fill="#9d9d9d"/><rect x="2" y="6" width="1.05" height="1.05" fill="#989898"/><rect x="2" y="7" width="1.05" height="1.05" fill="#9e9e9e"/><rect x="2" y="8" width="1.05" height="1.05" fill="#7e7e7e"/><rect x="2" y="9" width="1.05" height="1.05" fill="#a1a1a1"/><rect x="2" y="10" width="1.05" height="1.05" fill="#8f8f8f"/><rect x="2" y="11" width="1.05" height="1.05" fill="#888888"/><rect x="2" y="12" width="1.05" height="1.05" fill="#9a9a9a"/><rect x="2" y="13" width="1.05" height="1.05" fill="#9e9e9e"/><rect x="3" y="0" width="1.05" height="1.05" fill="#939393"/><rect x="3" y="1" width="1.05" height="1.05" fill="#8e8e8e"/><rect x="3" y="2" width="1.05" height="1.05" fill="#989898"/><rect x="3" y="3" width="1.05" height="1.05" fill="#979797"/><rect x="3" y="4" width="1.05" height="1.05" fill="#a4a4a4"/><rect x="3" y="5" width="1.05" height="1.05" fill="#9e9e9e"/><rect x="3" y="6" width="1.05" height="1.05" fill="#999999"/><rect x="3" y="7" width="1.05" height="1.05" fill="#a2a2a2"/><rect x="3" y="8" width="1.05" height="1.05" fill="#969696"/><rect x="3" y="9" width="1.05" height="1.05" fill="#8f8f8f"/><rect x="3" y="10" width="1.05" height="1.05" fill="#9d9d9d"/><rect x="3" y="11" width="1.05" height="1.05" fill="#9d9d9d"/><rect x="3" y="12" width="1.05" height="1.05" fill="#969696"/><rect x="3" y="13" width="1.05" height="1.05" fill="#909090"/><rect x="4" y="0" width="1.05" height="1.05" fill="#9a9a9a"/><rect x="4" y="1" width="1.05" height="1.05" fill="#818181"/><rect x="4" y="2" width="1.05" height="1.05" fill="#9e9e9e"/><rect x="4" y="3" width="1.05" height="1.05" fill="#9c9c9c"/><rect x="4" y="4" width="1.05" height="1.05" fill="#898989"/><rect x="4" y="5" width="1.05" height="1.05" fill="#989898"/><rect x="4" y="6" width="1.05" height="1.05" fill="#8f8f8f"/><rect x="4" y="7" width="1.05" height="1.05" fill="#9e9e9e"/><rect x="4" y="8" width="1.05" height="1.05" fill="#858585"/><rect x="4" y="9" width="1.05" height="1.05" fill="#8f8f8f"/><rect x="4" y="10" width="1.05" height="1.05" fill="#9e9e9e"/><rect x="4" y="11" width="1.05" height="1.05" fill="#a2a2a2"/><rect x="4" y="12" width="1.05" height="1.05" fill="#848484"/><rect x="4" y="13" width="1.05" height="1.05" fill="#939393"/><rect x="5" y="0" width="1.05" height="1.05" fill="#9a9a9a"/><rect x="5" y="1" width="1.05" height="1.05" fill="#929292"/><rect x="5" y="2" width="1.05" height="1.05" fill="#a6a6a6"/><rect x="5" y="3" width="1.05" height="1.05" fill="#8d8d8d"/><rect x="5" y="4" width="1.05" height="1.05" fill="#9b9b9b"/><rect x="5" y="5" width="1.05" height="1.05" fill="#8e8e8e"/><rect x="5" y="6" width="1.05" height="1.05" fill="#a4a4a4"/><rect x="5" y="7" width="1.05" height="1.05" fill="#979797"/><rect x="5" y="8" width="1.05" height="1.05" fill="#949494"/><rect x="5" y="9" width="1.05" height="1.05" fill="#888888"/><rect x="5" y="10" width="1.05" height="1.05" fill="#a7a7a7"/><rect x="5" y="11" width="1.05" height="1.05" fill="#9e9e9e"/><rect x="5" y="12" width="1.05" height="1.05" fill="#9e9e9e"/><rect x="5" y="13" width="1.05" height="1.05" fill="#a2a2a2"/><rect x="6" y="0" width="1.05" height="1.05" fill="#9b9b9b"/><rect x="6" y="1" width="1.05" height="1.05" fill="#929292"/><rect x="6" y="2" width="1.05" height="1.05" fill="#909090"/><rect x="6" y="3" width="1.05" height="1.05" fill="#909090"/><rect x="6" y="4" width="1.05" height="1.05" fill="#a4a4a4"/><rect x="6" y="5" width="1.05" height="1.05" fill="#8a8a8a"/><rect x="6" y="6" width="1.05" height="1.05" fill="#929292"/><rect x="6" y="7" width="1.05" height="1.05" fill="#959595"/><rect x="6" y="8" width="1.05" height="1.05" fill="#9a9a9a"/><rect x="6" y="9" width="1.05" height="1.05" fill="#9d9d9d"/><rect x="6" y="10" width="1.05" height="1.05" fill="#8c8c8c"/><rect x="6" y="11" width="1.05" height="1.05" fill="#888888"/><rect x="6" y="12" width="1.05" height="1.05" fill="#979797"/><rect x="6" y="13" width="1.05" height="1.05" fill="#a2a2a2"/><rect x="7" y="0" width="1.05" height="1.05" fill="#9e9e9e"/><rect x="7" y="1" width="1.05" height="1.05" fill="#999999"/><rect x="7" y="2" width="1.05" height="1.05" fill="#959595"/><rect x="7" y="3" width="1.05" height="1.05" fill="#9a9a9a"/><rect x="7" y="4" width="1.05" height="1.05" fill="#959595"/><rect x="7" y="5" width="1.05" height="1.05" fill="#9f9f9f"/><rect x="7" y="6" width="1.05" height="1.05" fill="#909090"/><rect x="7" y="7" width="1.05" height="1.05" fill="#999999"/><rect x="7" y="8" width="1.05" height="1.05" fill="#979797"/><rect x="7" y="9" width="1.05" height="1.05" fill="#9c9c9c"/><rect x="7" y="10" width="1.05" height="1.05" fill="#9a9a9a"/><rect x="7" y="11" width="1.05" height="1.05" fill="#aeaeae"/><rect x="7" y="12" width="1.05" height="1.05" fill="#a5a5a5"/><rect x="7" y="13" width="1.05" height="1.05" fill="#a5a5a5"/><rect x="8" y="0" width="1.05" height="1.05" fill="#858585"/><rect x="8" y="1" width="1.05" height="1.05" fill="#949494"/><rect x="8" y="2" width="1.05" height="1.05" fill="#929292"/><rect x="8" y="3" width="1.05" height="1.05" fill="#9c9c9c"/><rect x="8" y="4" width="1.05" height="1.05" fill="#838383"/><rect x="8" y="5" width="1.05" height="1.05" fill="#a2a2a2"/><rect x="8" y="6" width="1.05" height="1.05" fill="#a1a1a1"/><rect x="8" y="7" width="1.05" height="1.05" fill="#8c8c8c"/><rect x="8" y="8" width="1.05" height="1.05" fill="#8f8f8f"/><rect x="8" y="9" width="1.05" height="1.05" fill="#909090"/><rect x="8" y="10" width="1.05" height="1.05" fill="#989898"/><rect x="8" y="11" width="1.05" height="1.05" fill="#9d9d9d"/><rect x="8" y="12" width="1.05" height="1.05" fill="#aaaaaa"/><rect x="8" y="13" width="1.05" height="1.05" fill="#969696"/><rect x="9" y="0" width="1.05" height="1.05" fill="#9e9e9e"/><rect x="9" y="1" width="1.05" height="1.05" fill="#999999"/><rect x="9" y="2" width="1.05" height="1.05" fill="#a7a7a7"/><rect x="9" y="3" width="1.05" height="1.05" fill="#9e9e9e"/><rect x="9" y="4" width="1.05" height="1.05" fill="#a4a4a4"/><rect x="9" y="5" width="1.05" height="1.05" fill="#8e8e8e"/><rect x="9" y="6" width="1.05" height="1.05" fill="#969696"/><rect x="9" y="7" width="1.05" height="1.05" fill="#909090"/><rect x="9" y="8" width="1.05" height="1.05" fill="#a5a5a5"/><rect x="9" y="9" width="1.05" height="1.05" fill="#9d9d9d"/><rect x="9" y="10" width="1.05" height="1.05" fill="#959595"/><rect x="9" y="11" width="1.05" height="1.05" fill="#939393"/><rect x="9" y="12" width="1.05" height="1.05" fill="#9c9c9c"/><rect x="9" y="13" width="1.05" height="1.05" fill="#919191"/><rect x="10" y="0" width="1.05" height="1.05" fill="#8f8f8f"/><rect x="10" y="1" width="1.05" height="1.05" fill="#9c9c9c"/><rect x="10" y="2" width="1.05" height="1.05" fill="#aeaeae"/><rect x="10" y="3" width="1.05" height="1.05" fill="#959595"/><rect x="10" y="4" width="1.05" height="1.05" fill="#929292"/><rect x="10" y="5" width="1.05" height="1.05" fill="#8d8d8d"/><rect x="10" y="6" width="1.05" height="1.05" fill="#8b8b8b"/><rect x="10" y="7" width="1.05" height="1.05" fill="#9c9c9c"/><rect x="10" y="8" width="1.05" height="1.05" fill="#9f9f9f"/><rect x="10" y="9" width="1.05" height="1.05" fill="#989898"/><rect x="10" y="10" width="1.05" height="1.05" fill="#9a9a9a"/><rect x="10" y="11" width="1.05" height="1.05" fill="#999999"/><rect x="10" y="12" width="1.05" height="1.05" fill="#999999"/><rect x="10" y="13" width="1.05" height="1.05" fill="#8a8a8a"/><rect x="11" y="0" width="1.05" height="1.05" fill="#939393"/><rect x="11" y="1" width="1.05" height="1.05" fill="#999999"/><rect x="11" y="2" width="1.05" height="1.05" fill="#909090"/><rect x="11" y="3" width="1.05" height="1.05" fill="#939393"/><rect x="11" y="4" width="1.05" height="1.05" fill="#909090"/><rect x="11" y="5" width="1.05" height="1.05" fill="#949494"/><rect x="11" y="6" width="1.05" height="1.05" fill="#9f9f9f"/><rect x="11" y="7" width="1.05" height="1.05" fill="#949494"/><rect x="11" y="8" width="1.05" height="1.05" fill="#969696"/><rect x="11" y="9" width="1.05" height="1.05" fill="#9f9f9f"/><rect x="11" y="10" width="1.05" height="1.05" fill="#9d9d9d"/><rect x="11" y="11" width="1.05" height="1.05" fill="#a7a7a7"/><rect x="11" y="12" width="1.05" height="1.05" fill="#858585"/><rect x="11" y="13" width="1.05" height="1.05" fill="#9f9f9f"/><rect x="12" y="0" width="1.05" height="1.05" fill="#939393"/><rect x="12" y="1" width="1.05" height="1.05" fill="#999999"/><rect x="12" y="2" width="1.05" height="1.05" fill="#9f9f9f"/><rect x="12" y="3" width="1.05" height="1.05" fill="#a1a1a1"/><rect x="12" y="4" width="1.05" height="1.05" fill="#a1a1a1"/><rect x="12" y="5" width="1.05" height="1.05" fill="#999999"/><rect x="12" y="6" width="1.05" height="1.05" fill="#a6a6a6"/><rect x="12" y="7" width="1.05" height="1.05" fill="#959595"/><rect x="12" y="8" width="1.05" height="1.05" fill="#969696"/><rect x="12" y="9" width="1.05" height="1.05" fill="#9f9f9f"/><rect x="12" y="10" width="1.05" height="1.05" fill="#939393"/><rect x="12" y="11" width="1.05" height="1.05" fill="#ababab"/><rect x="12" y="12" width="1.05" height="1.05" fill="#a1a1a1"/><rect x="12" y="13" width="1.05" height="1.05" fill="#ababab"/><rect x="13" y="0" width="1.05" height="1.05" fill="#979797"/><rect x="13" y="1" width="1.05" height="1.05" fill="#949494"/><rect x="13" y="2" width="1.05" height="1.05" fill="#999999"/><rect x="13" y="3" width="1.05" height="1.05" fill="#9e9e9e"/><rect x="13" y="4" width="1.05" height="1.05" fill="#929292"/><rect x="13" y="5" width="1.05" height="1.05" fill="#9b9b9b"/><rect x="13" y="6" width="1.05" height="1.05" fill="#979797"/><rect x="13" y="7" width="1.05" height="1.05" fill="#a6a6a6"/><rect x="13" y="8" width="1.05" height="1.05" fill="#929292"/><rect x="13" y="9" width="1.05" height="1.05" fill="#a1a1a1"/><rect x="13" y="10" width="1.05" height="1.05" fill="#929292"/><rect x="13" y="11" width="1.05" height="1.05" fill="#8f8f8f"/><rect x="13" y="12" width="1.05" height="1.05" fill="#919191"/><rect x="13" y="13" width="1.05" height="1.05" fill="#8d8d8d"/></pattern></defs>
</svg>
</body></html>
